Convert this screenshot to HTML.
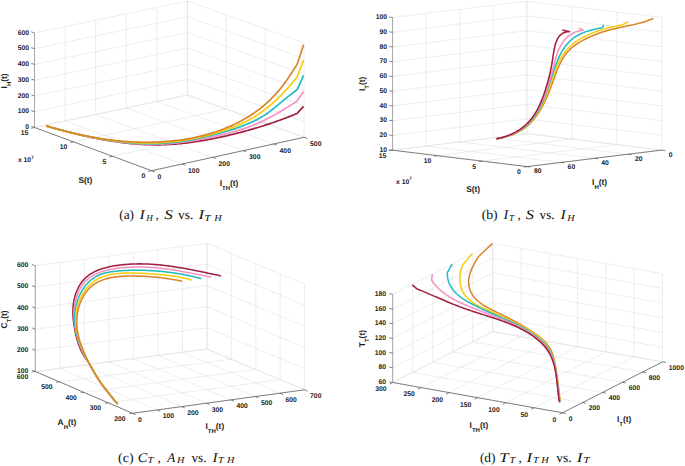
<!DOCTYPE html>
<html><head><meta charset="utf-8"><style>
html,body{margin:0;padding:0;background:#fff;width:685px;height:466px;overflow:hidden;}
svg{display:block;font-family:"Liberation Sans",sans-serif;text-rendering:geometricPrecision;}
</style></head><body>
<svg width="685" height="466" viewBox="0 0 685 466">
<rect width="685" height="466" fill="#fff"/>
<line x1="151.6" y1="170.7" x2="34.5" y2="127.5" stroke="#dedede" stroke-width="0.7" stroke-dasharray="1.6 0.5"/>
<line x1="34.5" y1="127.5" x2="34.5" y2="33" stroke="#dedede" stroke-width="0.7" stroke-dasharray="1.6 0.5"/>
<line x1="182.1" y1="164.02" x2="65.08" y2="121" stroke="#dedede" stroke-width="0.7" stroke-dasharray="1.6 0.5"/>
<line x1="65.08" y1="121" x2="65.08" y2="26.62" stroke="#dedede" stroke-width="0.7" stroke-dasharray="1.6 0.5"/>
<line x1="212.6" y1="157.34" x2="95.66" y2="114.5" stroke="#dedede" stroke-width="0.7" stroke-dasharray="1.6 0.5"/>
<line x1="95.66" y1="114.5" x2="95.66" y2="20.24" stroke="#dedede" stroke-width="0.7" stroke-dasharray="1.6 0.5"/>
<line x1="243.1" y1="150.66" x2="126.24" y2="108" stroke="#dedede" stroke-width="0.7" stroke-dasharray="1.6 0.5"/>
<line x1="126.24" y1="108" x2="126.24" y2="13.86" stroke="#dedede" stroke-width="0.7" stroke-dasharray="1.6 0.5"/>
<line x1="273.6" y1="143.98" x2="156.82" y2="101.5" stroke="#dedede" stroke-width="0.7" stroke-dasharray="1.6 0.5"/>
<line x1="156.82" y1="101.5" x2="156.82" y2="7.48" stroke="#dedede" stroke-width="0.7" stroke-dasharray="1.6 0.5"/>
<line x1="304.1" y1="137.3" x2="187.4" y2="95" stroke="#dedede" stroke-width="0.7" stroke-dasharray="1.6 0.5"/>
<line x1="187.4" y1="95" x2="187.4" y2="1.1" stroke="#dedede" stroke-width="0.7" stroke-dasharray="1.6 0.5"/>
<line x1="151.6" y1="170.7" x2="304.1" y2="137.3" stroke="#dedede" stroke-width="0.7" stroke-dasharray="1.6 0.5"/>
<line x1="304.1" y1="137.3" x2="304.1" y2="42.8" stroke="#dedede" stroke-width="0.7" stroke-dasharray="1.6 0.5"/>
<line x1="112.57" y1="156.3" x2="265.2" y2="123.2" stroke="#dedede" stroke-width="0.7" stroke-dasharray="1.6 0.5"/>
<line x1="265.2" y1="123.2" x2="265.2" y2="28.9" stroke="#dedede" stroke-width="0.7" stroke-dasharray="1.6 0.5"/>
<line x1="73.53" y1="141.9" x2="226.3" y2="109.1" stroke="#dedede" stroke-width="0.7" stroke-dasharray="1.6 0.5"/>
<line x1="226.3" y1="109.1" x2="226.3" y2="15" stroke="#dedede" stroke-width="0.7" stroke-dasharray="1.6 0.5"/>
<line x1="34.5" y1="127.5" x2="187.4" y2="95" stroke="#dedede" stroke-width="0.7" stroke-dasharray="1.6 0.5"/>
<line x1="187.4" y1="95" x2="187.4" y2="1.1" stroke="#dedede" stroke-width="0.7" stroke-dasharray="1.6 0.5"/>
<line x1="34.5" y1="127.5" x2="187.4" y2="95" stroke="#dedede" stroke-width="0.7" stroke-dasharray="1.6 0.5"/>
<line x1="304.1" y1="137.3" x2="187.4" y2="95" stroke="#dedede" stroke-width="0.7" stroke-dasharray="1.6 0.5"/>
<line x1="34.5" y1="111.75" x2="187.4" y2="79.35" stroke="#dedede" stroke-width="0.7" stroke-dasharray="1.6 0.5"/>
<line x1="304.1" y1="121.55" x2="187.4" y2="79.35" stroke="#dedede" stroke-width="0.7" stroke-dasharray="1.6 0.5"/>
<line x1="34.5" y1="96" x2="187.4" y2="63.7" stroke="#dedede" stroke-width="0.7" stroke-dasharray="1.6 0.5"/>
<line x1="304.1" y1="105.8" x2="187.4" y2="63.7" stroke="#dedede" stroke-width="0.7" stroke-dasharray="1.6 0.5"/>
<line x1="34.5" y1="80.25" x2="187.4" y2="48.05" stroke="#dedede" stroke-width="0.7" stroke-dasharray="1.6 0.5"/>
<line x1="304.1" y1="90.05" x2="187.4" y2="48.05" stroke="#dedede" stroke-width="0.7" stroke-dasharray="1.6 0.5"/>
<line x1="34.5" y1="64.5" x2="187.4" y2="32.4" stroke="#dedede" stroke-width="0.7" stroke-dasharray="1.6 0.5"/>
<line x1="304.1" y1="74.3" x2="187.4" y2="32.4" stroke="#dedede" stroke-width="0.7" stroke-dasharray="1.6 0.5"/>
<line x1="34.5" y1="48.75" x2="187.4" y2="16.75" stroke="#dedede" stroke-width="0.7" stroke-dasharray="1.6 0.5"/>
<line x1="304.1" y1="58.55" x2="187.4" y2="16.75" stroke="#dedede" stroke-width="0.7" stroke-dasharray="1.6 0.5"/>
<line x1="34.5" y1="33" x2="187.4" y2="1.1" stroke="#dedede" stroke-width="0.7" stroke-dasharray="1.6 0.5"/>
<line x1="304.1" y1="42.8" x2="187.4" y2="1.1" stroke="#dedede" stroke-width="0.7" stroke-dasharray="1.6 0.5"/>
<line x1="151.6" y1="170.7" x2="304.1" y2="137.3" stroke="#5a5a5a" stroke-width="0.75"/>
<line x1="151.6" y1="170.7" x2="34.5" y2="127.5" stroke="#5a5a5a" stroke-width="0.75"/>
<line x1="34.5" y1="127.5" x2="34.5" y2="33" stroke="#a8a8a8" stroke-width="1.0"/>
<line x1="151.6" y1="170.7" x2="154.79" y2="171.88" stroke="#5a5a5a" stroke-width="0.75"/>
<line x1="182.1" y1="164.02" x2="185.29" y2="165.2" stroke="#5a5a5a" stroke-width="0.75"/>
<line x1="212.6" y1="157.34" x2="215.79" y2="158.52" stroke="#5a5a5a" stroke-width="0.75"/>
<line x1="243.1" y1="150.66" x2="246.29" y2="151.84" stroke="#5a5a5a" stroke-width="0.75"/>
<line x1="273.6" y1="143.98" x2="276.79" y2="145.16" stroke="#5a5a5a" stroke-width="0.75"/>
<line x1="304.1" y1="137.3" x2="307.29" y2="138.48" stroke="#5a5a5a" stroke-width="0.75"/>
<line x1="151.6" y1="170.7" x2="148.28" y2="171.43" stroke="#5a5a5a" stroke-width="0.75"/>
<line x1="112.57" y1="156.3" x2="109.25" y2="157.03" stroke="#5a5a5a" stroke-width="0.75"/>
<line x1="73.53" y1="141.9" x2="70.21" y2="142.63" stroke="#5a5a5a" stroke-width="0.75"/>
<line x1="34.5" y1="127.5" x2="31.18" y2="128.23" stroke="#5a5a5a" stroke-width="0.75"/>
<line x1="34.5" y1="127.5" x2="31.31" y2="126.32" stroke="#5a5a5a" stroke-width="0.75"/>
<line x1="34.5" y1="111.75" x2="31.31" y2="110.57" stroke="#5a5a5a" stroke-width="0.75"/>
<line x1="34.5" y1="96" x2="31.31" y2="94.82" stroke="#5a5a5a" stroke-width="0.75"/>
<line x1="34.5" y1="80.25" x2="31.31" y2="79.07" stroke="#5a5a5a" stroke-width="0.75"/>
<line x1="34.5" y1="64.5" x2="31.31" y2="63.32" stroke="#5a5a5a" stroke-width="0.75"/>
<line x1="34.5" y1="48.75" x2="31.31" y2="47.57" stroke="#5a5a5a" stroke-width="0.75"/>
<line x1="34.5" y1="33" x2="31.31" y2="31.82" stroke="#5a5a5a" stroke-width="0.75"/>
<text x="157.6" y="179.23" font-size="6.8" text-anchor="start" font-weight="bold" fill="#262626" font-family="Liberation Sans">0</text>
<text x="188.1" y="172.55" font-size="6.8" text-anchor="start" font-weight="bold" fill="#262626" font-family="Liberation Sans">100</text>
<text x="218.6" y="165.87" font-size="6.8" text-anchor="start" font-weight="bold" fill="#262626" font-family="Liberation Sans">200</text>
<text x="249.1" y="159.19" font-size="6.8" text-anchor="start" font-weight="bold" fill="#262626" font-family="Liberation Sans">300</text>
<text x="279.6" y="152.51" font-size="6.8" text-anchor="start" font-weight="bold" fill="#262626" font-family="Liberation Sans">400</text>
<text x="310.1" y="145.83" font-size="6.8" text-anchor="start" font-weight="bold" fill="#262626" font-family="Liberation Sans">500</text>
<text x="145.4" y="178.13" font-size="6.8" text-anchor="end" font-weight="bold" fill="#262626" font-family="Liberation Sans">0</text>
<text x="106.37" y="163.73" font-size="6.8" text-anchor="end" font-weight="bold" fill="#262626" font-family="Liberation Sans">5</text>
<text x="67.33" y="149.33" font-size="6.8" text-anchor="end" font-weight="bold" fill="#262626" font-family="Liberation Sans">10</text>
<text x="28.3" y="134.93" font-size="6.8" text-anchor="end" font-weight="bold" fill="#262626" font-family="Liberation Sans">15</text>
<text x="29" y="129.03" font-size="6.8" text-anchor="end" font-weight="bold" fill="#262626" font-family="Liberation Sans">0</text>
<text x="29" y="113.28" font-size="6.8" text-anchor="end" font-weight="bold" fill="#262626" font-family="Liberation Sans">100</text>
<text x="29" y="97.53" font-size="6.8" text-anchor="end" font-weight="bold" fill="#262626" font-family="Liberation Sans">200</text>
<text x="29" y="81.78" font-size="6.8" text-anchor="end" font-weight="bold" fill="#262626" font-family="Liberation Sans">300</text>
<text x="29" y="66.03" font-size="6.8" text-anchor="end" font-weight="bold" fill="#262626" font-family="Liberation Sans">400</text>
<text x="29" y="50.28" font-size="6.8" text-anchor="end" font-weight="bold" fill="#262626" font-family="Liberation Sans">500</text>
<text x="29" y="34.53" font-size="6.8" text-anchor="end" font-weight="bold" fill="#262626" font-family="Liberation Sans">600</text>
<text x="17.9" y="162.3" font-size="6.8" text-anchor="start" font-weight="bold" fill="#262626" font-family="Liberation Sans">x 10<tspan font-size="4.6" dy="-3.6">7</tspan></text>
<text x="219.7" y="185.6" font-size="8.4" text-anchor="start" font-weight="bold" fill="#1a1a1a" font-family="Liberation Sans">I<tspan font-size="6.0" dy="4.0">TH</tspan><tspan dy="-4.0">(t)</tspan></text>
<text x="78.4" y="182.8" font-size="8.4" text-anchor="start" font-weight="bold" fill="#1a1a1a" font-family="Liberation Sans">S(t)</text>
<text x="7.5" y="88.4" font-size="8.4" text-anchor="start" font-weight="bold" fill="#1a1a1a" font-family="Liberation Sans" transform="rotate(-90 7.5 88.4)">I<tspan font-size="6.0" dy="4.0">H</tspan><tspan dy="-4.0">(t)</tspan></text>
<path d="M46.17 125.89 L47.8 126.36 L49.43 126.82 L51.07 127.28 L52.7 127.74 L54.34 128.19 L55.98 128.64 L57.62 129.09 L59.26 129.54 L60.91 129.98 L62.55 130.42 L64.2 130.86 L65.85 131.29 L67.5 131.72 L69.15 132.14 L70.81 132.56 L72.46 132.98 L74.12 133.39 L75.78 133.79 L77.44 134.2 L79.1 134.59 L80.76 134.98 L82.42 135.37 L84.09 135.75 L85.76 136.13 L87.42 136.5 L89.09 136.86 L90.76 137.22 L92.43 137.57 L94.11 137.92 L95.78 138.26 L97.45 138.59 L99.13 138.91 L100.81 139.23 L102.48 139.54 L104.16 139.85 L105.84 140.14 L107.52 140.43 L109.21 140.71 L110.89 140.99 L112.57 141.25 L114.26 141.51 L115.94 141.76 L117.63 142 L119.32 142.23 L121 142.45 L122.69 142.67 L124.38 142.87 L126.07 143.07 L127.76 143.25 L129.45 143.43 L131.14 143.6 L132.84 143.75 L134.53 143.9 L136.22 144.04 L137.92 144.16 L139.61 144.28 L141.31 144.39 L143 144.48 L144.7 144.56 L146.39 144.63 L148.09 144.7 L149.79 144.74 L151.48 144.78 L153.18 144.81 L154.88 144.82 L156.58 144.82 L158.27 144.81 L159.97 144.79 L161.67 144.76 L163.37 144.71 L165.07 144.65 L166.77 144.58 L168.46 144.5 L170.16 144.4 L171.86 144.29 L173.56 144.18 L175.26 144.05 L176.95 143.91 L178.65 143.76 L180.35 143.6 L182.04 143.43 L183.74 143.24 L185.43 143.05 L187.13 142.85 L188.82 142.64 L190.51 142.42 L192.21 142.19 L193.9 141.96 L195.59 141.71 L197.28 141.45 L198.97 141.19 L200.66 140.92 L202.34 140.64 L204.03 140.35 L205.71 140.05 L207.39 139.75 L209.08 139.44 L210.76 139.12 L212.44 138.79 L214.11 138.46 L215.79 138.12 L217.46 137.78 L219.14 137.42 L220.81 137.07 L222.48 136.7 L224.15 136.33 L225.81 135.96 L227.48 135.57 L229.14 135.19 L230.8 134.79 L232.46 134.39 L234.12 133.99 L235.77 133.58 L237.43 133.16 L239.08 132.74 L240.73 132.31 L242.38 131.87 L244.02 131.43 L245.67 130.99 L247.31 130.53 L248.95 130.08 L250.59 129.61 L252.22 129.14 L253.86 128.67 L255.49 128.19 L257.12 127.7 L258.75 127.21 L260.37 126.71 L262 126.2 L263.62 125.69 L265.24 125.17 L266.85 124.65 L268.47 124.12 L270.08 123.58 L271.69 123.04 L273.3 122.49 L274.9 121.93 L276.51 121.37 L278.11 120.8 L279.71 120.22 L281.3 119.64 L282.9 119.05 L284.49 118.45 L286.08 117.85 L287.66 117.24 L289.25 116.62 L290.83 115.99 L292.41 115.36 L293.99 114.72 L295.56 114.08 L297.13 113.42 L303.6 106.4" fill="none" stroke="#a3203f" stroke-width="1.7" stroke-linejoin="round" stroke-linecap="butt"/>
<path d="M46.16 126.04 L47.82 126.48 L49.48 126.93 L51.14 127.37 L52.8 127.81 L54.47 128.25 L56.13 128.69 L57.8 129.13 L59.47 129.57 L61.15 130 L62.82 130.43 L64.5 130.86 L66.17 131.29 L67.85 131.71 L69.53 132.13 L71.21 132.54 L72.9 132.96 L74.58 133.37 L76.27 133.77 L77.96 134.17 L79.65 134.57 L81.34 134.96 L83.03 135.34 L84.72 135.73 L86.42 136.1 L88.12 136.47 L89.81 136.84 L91.51 137.19 L93.21 137.55 L94.91 137.89 L96.62 138.23 L98.32 138.56 L100.02 138.89 L101.73 139.21 L103.44 139.52 L105.14 139.82 L106.85 140.11 L108.56 140.4 L110.27 140.68 L111.98 140.95 L113.7 141.21 L115.41 141.46 L117.12 141.71 L118.84 141.94 L120.55 142.16 L122.27 142.38 L123.99 142.58 L125.71 142.78 L127.42 142.96 L129.14 143.13 L130.86 143.3 L132.58 143.45 L134.3 143.59 L136.02 143.72 L137.75 143.83 L139.47 143.94 L141.19 144.03 L142.91 144.11 L144.64 144.18 L146.36 144.23 L148.08 144.27 L149.81 144.3 L151.53 144.32 L153.26 144.32 L154.98 144.31 L156.71 144.28 L158.43 144.24 L160.16 144.19 L161.88 144.12 L163.61 144.03 L165.34 143.93 L167.06 143.82 L168.79 143.7 L170.51 143.56 L172.24 143.41 L173.96 143.24 L175.68 143.07 L177.41 142.88 L179.13 142.68 L180.85 142.47 L182.57 142.25 L184.3 142.02 L186.02 141.77 L187.73 141.52 L189.45 141.25 L191.17 140.98 L192.89 140.7 L194.6 140.41 L196.31 140.11 L198.03 139.8 L199.74 139.48 L201.45 139.16 L203.16 138.82 L204.86 138.48 L206.57 138.14 L208.27 137.78 L209.97 137.43 L211.67 137.06 L213.37 136.69 L215.07 136.31 L216.76 135.93 L218.45 135.54 L220.14 135.15 L221.83 134.75 L223.52 134.35 L225.2 133.94 L226.88 133.53 L228.56 133.11 L230.23 132.67 L231.9 132.23 L233.57 131.78 L235.23 131.32 L236.88 130.85 L238.54 130.36 L240.18 129.87 L241.82 129.35 L243.46 128.82 L245.09 128.28 L246.72 127.72 L248.34 127.14 L249.95 126.54 L251.55 125.93 L253.15 125.29 L254.74 124.64 L256.33 123.97 L257.91 123.28 L259.48 122.58 L261.05 121.86 L262.61 121.12 L264.16 120.37 L265.71 119.6 L267.26 118.82 L268.79 118.03 L270.32 117.22 L271.85 116.4 L273.37 115.57 L274.89 114.73 L276.4 113.87 L277.9 113.01 L279.4 112.14 L280.89 111.25 L282.38 110.36 L283.87 109.46 L285.35 108.55 L286.83 107.64 L288.3 106.71 L289.76 105.79 L291.23 104.85 L292.68 103.91 L294.14 102.97 L295.59 102.02 L297.03 101.07 L303.6 91.4" fill="none" stroke="#f792c4" stroke-width="1.7" stroke-linejoin="round" stroke-linecap="butt"/>
<path d="M46.17 126.04 L47.85 126.5 L49.54 126.95 L51.23 127.41 L52.93 127.86 L54.62 128.31 L56.32 128.76 L58.02 129.21 L59.72 129.65 L61.42 130.09 L63.13 130.53 L64.84 130.96 L66.55 131.39 L68.26 131.82 L69.97 132.24 L71.69 132.66 L73.4 133.08 L75.12 133.49 L76.84 133.9 L78.57 134.3 L80.29 134.69 L82.01 135.08 L83.74 135.47 L85.47 135.85 L87.2 136.22 L88.93 136.59 L90.66 136.95 L92.4 137.3 L94.13 137.65 L95.87 137.99 L97.61 138.32 L99.34 138.65 L101.08 138.96 L102.83 139.27 L104.57 139.57 L106.31 139.87 L108.06 140.15 L109.8 140.42 L111.55 140.69 L113.3 140.94 L115.04 141.19 L116.79 141.43 L118.54 141.65 L120.29 141.87 L122.04 142.07 L123.8 142.27 L125.55 142.45 L127.3 142.63 L129.06 142.79 L130.81 142.94 L132.57 143.07 L134.32 143.2 L136.08 143.31 L137.83 143.41 L139.59 143.5 L141.35 143.58 L143.11 143.64 L144.86 143.69 L146.62 143.72 L148.38 143.74 L150.14 143.75 L151.9 143.74 L153.65 143.72 L155.41 143.69 L157.17 143.64 L158.93 143.57 L160.69 143.49 L162.45 143.39 L164.2 143.28 L165.96 143.15 L167.72 143.01 L169.48 142.85 L171.23 142.68 L172.99 142.5 L174.74 142.3 L176.5 142.09 L178.25 141.86 L180 141.63 L181.75 141.37 L183.5 141.11 L185.25 140.84 L187 140.55 L188.74 140.25 L190.49 139.94 L192.23 139.62 L193.97 139.29 L195.71 138.95 L197.44 138.59 L199.18 138.23 L200.91 137.86 L202.64 137.47 L204.37 137.08 L206.09 136.68 L207.82 136.27 L209.54 135.85 L211.26 135.42 L212.97 134.99 L214.68 134.54 L216.39 134.09 L218.1 133.63 L219.8 133.17 L221.5 132.7 L223.2 132.22 L224.89 131.73 L226.58 131.23 L228.26 130.72 L229.95 130.21 L231.62 129.68 L233.29 129.14 L234.96 128.58 L236.62 128.02 L238.28 127.44 L239.94 126.85 L241.58 126.24 L243.22 125.61 L244.86 124.97 L246.49 124.31 L248.11 123.63 L249.73 122.94 L251.34 122.22 L252.95 121.48 L254.54 120.73 L256.12 119.94 L257.69 119.14 L259.25 118.3 L260.79 117.44 L262.31 116.55 L263.81 115.63 L265.28 114.68 L266.74 113.7 L268.18 112.69 L269.59 111.65 L271 110.59 L272.39 109.51 L273.77 108.42 L275.13 107.31 L276.5 106.19 L277.85 105.06 L279.21 103.93 L280.56 102.8 L281.92 101.67 L283.27 100.54 L284.63 99.42 L286 98.3 L287.37 97.19 L288.74 96.08 L290.12 94.99 L291.51 93.9 L292.91 92.83 L294.32 91.76 L295.73 90.71 L297.16 89.68 L303.6 75.4" fill="none" stroke="#22bcc4" stroke-width="1.7" stroke-linejoin="round" stroke-linecap="butt"/>
<path d="M46.15 125.94 L47.88 126.44 L49.61 126.93 L51.35 127.43 L53.09 127.91 L54.83 128.39 L56.57 128.87 L58.31 129.34 L60.06 129.81 L61.81 130.27 L63.56 130.73 L65.31 131.18 L67.06 131.63 L68.82 132.06 L70.57 132.5 L72.33 132.92 L74.09 133.35 L75.85 133.76 L77.62 134.17 L79.38 134.57 L81.15 134.96 L82.92 135.34 L84.69 135.72 L86.46 136.09 L88.24 136.46 L90.01 136.81 L91.79 137.16 L93.56 137.5 L95.34 137.83 L97.12 138.15 L98.9 138.46 L100.69 138.77 L102.47 139.06 L104.25 139.35 L106.04 139.62 L107.83 139.89 L109.62 140.15 L111.41 140.39 L113.2 140.63 L114.99 140.86 L116.78 141.07 L118.57 141.28 L120.36 141.48 L122.16 141.66 L123.95 141.83 L125.75 141.99 L127.55 142.14 L129.34 142.28 L131.14 142.41 L132.94 142.53 L134.74 142.63 L136.54 142.72 L138.34 142.8 L140.14 142.86 L141.94 142.92 L143.74 142.96 L145.55 142.98 L147.35 143 L149.15 143 L150.95 142.99 L152.76 142.96 L154.56 142.92 L156.36 142.86 L158.17 142.79 L159.97 142.71 L161.77 142.61 L163.58 142.5 L165.38 142.37 L167.18 142.23 L168.99 142.08 L170.79 141.91 L172.59 141.73 L174.39 141.53 L176.19 141.32 L177.99 141.09 L179.78 140.85 L181.58 140.6 L183.37 140.33 L185.16 140.05 L186.96 139.75 L188.74 139.45 L190.53 139.13 L192.31 138.79 L194.1 138.44 L195.88 138.08 L197.65 137.71 L199.43 137.32 L201.2 136.92 L202.97 136.5 L204.73 136.08 L206.49 135.64 L208.25 135.19 L210.01 134.72 L211.76 134.24 L213.51 133.75 L215.25 133.25 L216.99 132.74 L218.73 132.21 L220.46 131.67 L222.19 131.12 L223.91 130.55 L225.62 129.97 L227.33 129.38 L229.04 128.77 L230.73 128.15 L232.42 127.51 L234.1 126.85 L235.78 126.17 L237.44 125.48 L239.09 124.77 L240.73 124.03 L242.37 123.28 L243.99 122.5 L245.59 121.71 L247.19 120.89 L248.77 120.05 L250.34 119.18 L251.9 118.29 L253.44 117.38 L254.97 116.44 L256.48 115.48 L257.98 114.5 L259.47 113.49 L260.94 112.47 L262.4 111.42 L263.85 110.35 L265.28 109.26 L266.7 108.16 L268.11 107.03 L269.5 105.89 L270.88 104.72 L272.25 103.54 L273.6 102.35 L274.95 101.13 L276.27 99.9 L277.59 98.65 L278.89 97.39 L280.18 96.12 L281.46 94.83 L282.72 93.52 L283.98 92.21 L285.22 90.88 L286.45 89.54 L287.66 88.19 L288.87 86.82 L290.07 85.45 L291.25 84.08 L292.42 82.69 L293.59 81.3 L294.74 79.9 L295.89 78.49 L297.02 77.08 L303.6 60.1" fill="none" stroke="#f8ce0c" stroke-width="1.7" stroke-linejoin="round" stroke-linecap="butt"/>
<path d="M46.09 125.84 L47.88 126.39 L49.68 126.92 L51.47 127.45 L53.27 127.97 L55.06 128.49 L56.86 129 L58.66 129.5 L60.46 129.99 L62.27 130.47 L64.07 130.95 L65.87 131.41 L67.68 131.87 L69.48 132.32 L71.29 132.76 L73.1 133.2 L74.91 133.62 L76.72 134.04 L78.54 134.44 L80.35 134.84 L82.16 135.23 L83.98 135.61 L85.8 135.98 L87.62 136.34 L89.43 136.69 L91.25 137.03 L93.08 137.36 L94.9 137.69 L96.72 138 L98.55 138.3 L100.37 138.59 L102.2 138.87 L104.03 139.14 L105.86 139.4 L107.69 139.65 L109.52 139.89 L111.35 140.12 L113.18 140.34 L115.02 140.55 L116.85 140.74 L118.69 140.93 L120.53 141.1 L122.37 141.26 L124.21 141.41 L126.05 141.55 L127.89 141.68 L129.73 141.79 L131.58 141.89 L133.42 141.98 L135.27 142.06 L137.12 142.13 L138.96 142.18 L140.81 142.22 L142.66 142.25 L144.51 142.27 L146.37 142.27 L148.22 142.26 L150.07 142.24 L151.93 142.21 L153.79 142.16 L155.64 142.1 L157.5 142.02 L159.36 141.93 L161.22 141.83 L163.08 141.72 L164.94 141.59 L166.8 141.44 L168.67 141.28 L170.53 141.11 L172.39 140.92 L174.25 140.72 L176.11 140.51 L177.96 140.28 L179.82 140.03 L181.67 139.77 L183.52 139.49 L185.37 139.2 L187.22 138.89 L189.06 138.56 L190.9 138.22 L192.74 137.87 L194.57 137.49 L196.4 137.1 L198.22 136.7 L200.04 136.28 L201.85 135.84 L203.66 135.38 L205.47 134.9 L207.26 134.41 L209.05 133.9 L210.84 133.38 L212.62 132.83 L214.39 132.27 L216.15 131.69 L217.91 131.09 L219.66 130.47 L221.4 129.83 L223.13 129.17 L224.86 128.5 L226.57 127.81 L228.28 127.09 L229.98 126.36 L231.66 125.61 L233.34 124.84 L235.01 124.04 L236.67 123.23 L238.31 122.4 L239.95 121.55 L241.57 120.67 L243.18 119.78 L244.78 118.86 L246.37 117.93 L247.95 116.97 L249.51 115.99 L251.06 114.99 L252.6 113.97 L254.12 112.93 L255.63 111.87 L257.13 110.78 L258.61 109.68 L260.07 108.55 L261.52 107.4 L262.96 106.23 L264.37 105.04 L265.77 103.83 L267.16 102.6 L268.52 101.35 L269.87 100.08 L271.2 98.78 L272.51 97.47 L273.8 96.14 L275.07 94.78 L276.32 93.41 L277.55 92.01 L278.76 90.6 L279.95 89.17 L281.12 87.71 L282.27 86.24 L283.4 84.75 L284.51 83.25 L285.6 81.73 L286.68 80.2 L287.75 78.66 L288.81 77.12 L289.85 75.57 L290.88 74.01 L291.91 72.45 L292.93 70.9 L293.95 69.34 L294.96 67.78 L295.97 66.23 L296.98 64.69 L303.6 44.7" fill="none" stroke="#d8862c" stroke-width="1.7" stroke-linejoin="round" stroke-linecap="butt"/>
<line x1="527" y1="166.6" x2="392.6" y2="150.2" stroke="#dedede" stroke-width="0.7" stroke-dasharray="1.6 0.5"/>
<line x1="392.6" y1="150.2" x2="392.6" y2="17.5" stroke="#dedede" stroke-width="0.7" stroke-dasharray="1.6 0.5"/>
<line x1="560.73" y1="162.47" x2="426.15" y2="146.05" stroke="#dedede" stroke-width="0.7" stroke-dasharray="1.6 0.5"/>
<line x1="426.15" y1="146.05" x2="426.15" y2="13.42" stroke="#dedede" stroke-width="0.7" stroke-dasharray="1.6 0.5"/>
<line x1="594.45" y1="158.35" x2="459.7" y2="141.9" stroke="#dedede" stroke-width="0.7" stroke-dasharray="1.6 0.5"/>
<line x1="459.7" y1="141.9" x2="459.7" y2="9.35" stroke="#dedede" stroke-width="0.7" stroke-dasharray="1.6 0.5"/>
<line x1="628.17" y1="154.22" x2="493.25" y2="137.75" stroke="#dedede" stroke-width="0.7" stroke-dasharray="1.6 0.5"/>
<line x1="493.25" y1="137.75" x2="493.25" y2="5.27" stroke="#dedede" stroke-width="0.7" stroke-dasharray="1.6 0.5"/>
<line x1="661.9" y1="150.1" x2="526.8" y2="133.6" stroke="#dedede" stroke-width="0.7" stroke-dasharray="1.6 0.5"/>
<line x1="526.8" y1="133.6" x2="526.8" y2="1.2" stroke="#dedede" stroke-width="0.7" stroke-dasharray="1.6 0.5"/>
<line x1="527" y1="166.6" x2="661.9" y2="150.1" stroke="#dedede" stroke-width="0.7" stroke-dasharray="1.6 0.5"/>
<line x1="661.9" y1="150.1" x2="661.9" y2="17.4" stroke="#dedede" stroke-width="0.7" stroke-dasharray="1.6 0.5"/>
<line x1="482.2" y1="161.13" x2="616.87" y2="144.6" stroke="#dedede" stroke-width="0.7" stroke-dasharray="1.6 0.5"/>
<line x1="616.87" y1="144.6" x2="616.87" y2="12" stroke="#dedede" stroke-width="0.7" stroke-dasharray="1.6 0.5"/>
<line x1="437.4" y1="155.67" x2="571.83" y2="139.1" stroke="#dedede" stroke-width="0.7" stroke-dasharray="1.6 0.5"/>
<line x1="571.83" y1="139.1" x2="571.83" y2="6.6" stroke="#dedede" stroke-width="0.7" stroke-dasharray="1.6 0.5"/>
<line x1="392.6" y1="150.2" x2="526.8" y2="133.6" stroke="#dedede" stroke-width="0.7" stroke-dasharray="1.6 0.5"/>
<line x1="526.8" y1="133.6" x2="526.8" y2="1.2" stroke="#dedede" stroke-width="0.7" stroke-dasharray="1.6 0.5"/>
<line x1="392.6" y1="150.2" x2="526.8" y2="133.6" stroke="#dedede" stroke-width="0.7" stroke-dasharray="1.6 0.5"/>
<line x1="661.9" y1="150.1" x2="526.8" y2="133.6" stroke="#dedede" stroke-width="0.7" stroke-dasharray="1.6 0.5"/>
<line x1="392.6" y1="135.46" x2="526.8" y2="118.89" stroke="#dedede" stroke-width="0.7" stroke-dasharray="1.6 0.5"/>
<line x1="661.9" y1="135.36" x2="526.8" y2="118.89" stroke="#dedede" stroke-width="0.7" stroke-dasharray="1.6 0.5"/>
<line x1="392.6" y1="120.71" x2="526.8" y2="104.18" stroke="#dedede" stroke-width="0.7" stroke-dasharray="1.6 0.5"/>
<line x1="661.9" y1="120.61" x2="526.8" y2="104.18" stroke="#dedede" stroke-width="0.7" stroke-dasharray="1.6 0.5"/>
<line x1="392.6" y1="105.97" x2="526.8" y2="89.47" stroke="#dedede" stroke-width="0.7" stroke-dasharray="1.6 0.5"/>
<line x1="661.9" y1="105.87" x2="526.8" y2="89.47" stroke="#dedede" stroke-width="0.7" stroke-dasharray="1.6 0.5"/>
<line x1="392.6" y1="91.22" x2="526.8" y2="74.76" stroke="#dedede" stroke-width="0.7" stroke-dasharray="1.6 0.5"/>
<line x1="661.9" y1="91.12" x2="526.8" y2="74.76" stroke="#dedede" stroke-width="0.7" stroke-dasharray="1.6 0.5"/>
<line x1="392.6" y1="76.48" x2="526.8" y2="60.04" stroke="#dedede" stroke-width="0.7" stroke-dasharray="1.6 0.5"/>
<line x1="661.9" y1="76.38" x2="526.8" y2="60.04" stroke="#dedede" stroke-width="0.7" stroke-dasharray="1.6 0.5"/>
<line x1="392.6" y1="61.73" x2="526.8" y2="45.33" stroke="#dedede" stroke-width="0.7" stroke-dasharray="1.6 0.5"/>
<line x1="661.9" y1="61.63" x2="526.8" y2="45.33" stroke="#dedede" stroke-width="0.7" stroke-dasharray="1.6 0.5"/>
<line x1="392.6" y1="46.99" x2="526.8" y2="30.62" stroke="#dedede" stroke-width="0.7" stroke-dasharray="1.6 0.5"/>
<line x1="661.9" y1="46.89" x2="526.8" y2="30.62" stroke="#dedede" stroke-width="0.7" stroke-dasharray="1.6 0.5"/>
<line x1="392.6" y1="32.24" x2="526.8" y2="15.91" stroke="#dedede" stroke-width="0.7" stroke-dasharray="1.6 0.5"/>
<line x1="661.9" y1="32.14" x2="526.8" y2="15.91" stroke="#dedede" stroke-width="0.7" stroke-dasharray="1.6 0.5"/>
<line x1="392.6" y1="17.5" x2="526.8" y2="1.2" stroke="#dedede" stroke-width="0.7" stroke-dasharray="1.6 0.5"/>
<line x1="661.9" y1="17.4" x2="526.8" y2="1.2" stroke="#dedede" stroke-width="0.7" stroke-dasharray="1.6 0.5"/>
<line x1="527" y1="166.6" x2="661.9" y2="150.1" stroke="#5a5a5a" stroke-width="0.75"/>
<line x1="527" y1="166.6" x2="392.6" y2="150.2" stroke="#5a5a5a" stroke-width="0.75"/>
<line x1="392.6" y1="150.2" x2="392.6" y2="17.5" stroke="#a8a8a8" stroke-width="1.0"/>
<line x1="527" y1="166.6" x2="530.37" y2="167.01" stroke="#5a5a5a" stroke-width="0.75"/>
<line x1="560.73" y1="162.47" x2="564.1" y2="162.89" stroke="#5a5a5a" stroke-width="0.75"/>
<line x1="594.45" y1="158.35" x2="597.82" y2="158.76" stroke="#5a5a5a" stroke-width="0.75"/>
<line x1="628.17" y1="154.22" x2="631.55" y2="154.64" stroke="#5a5a5a" stroke-width="0.75"/>
<line x1="661.9" y1="150.1" x2="665.27" y2="150.51" stroke="#5a5a5a" stroke-width="0.75"/>
<line x1="527" y1="166.6" x2="523.63" y2="167.01" stroke="#5a5a5a" stroke-width="0.75"/>
<line x1="482.2" y1="161.13" x2="478.83" y2="161.55" stroke="#5a5a5a" stroke-width="0.75"/>
<line x1="437.4" y1="155.67" x2="434.03" y2="156.08" stroke="#5a5a5a" stroke-width="0.75"/>
<line x1="392.6" y1="150.2" x2="389.23" y2="150.61" stroke="#5a5a5a" stroke-width="0.75"/>
<line x1="392.6" y1="150.2" x2="389.23" y2="149.79" stroke="#5a5a5a" stroke-width="0.75"/>
<line x1="392.6" y1="135.46" x2="389.23" y2="135.04" stroke="#5a5a5a" stroke-width="0.75"/>
<line x1="392.6" y1="120.71" x2="389.23" y2="120.3" stroke="#5a5a5a" stroke-width="0.75"/>
<line x1="392.6" y1="105.97" x2="389.23" y2="105.55" stroke="#5a5a5a" stroke-width="0.75"/>
<line x1="392.6" y1="91.22" x2="389.23" y2="90.81" stroke="#5a5a5a" stroke-width="0.75"/>
<line x1="392.6" y1="76.48" x2="389.23" y2="76.07" stroke="#5a5a5a" stroke-width="0.75"/>
<line x1="392.6" y1="61.73" x2="389.23" y2="61.32" stroke="#5a5a5a" stroke-width="0.75"/>
<line x1="392.6" y1="46.99" x2="389.23" y2="46.58" stroke="#5a5a5a" stroke-width="0.75"/>
<line x1="392.6" y1="32.24" x2="389.23" y2="31.83" stroke="#5a5a5a" stroke-width="0.75"/>
<line x1="392.6" y1="17.5" x2="389.23" y2="17.09" stroke="#5a5a5a" stroke-width="0.75"/>
<text x="533.9" y="173.43" font-size="6.8" text-anchor="start" font-weight="bold" fill="#262626" font-family="Liberation Sans">80</text>
<text x="567.62" y="169.31" font-size="6.8" text-anchor="start" font-weight="bold" fill="#262626" font-family="Liberation Sans">60</text>
<text x="601.35" y="165.18" font-size="6.8" text-anchor="start" font-weight="bold" fill="#262626" font-family="Liberation Sans">40</text>
<text x="635.07" y="161.06" font-size="6.8" text-anchor="start" font-weight="bold" fill="#262626" font-family="Liberation Sans">20</text>
<text x="668.8" y="156.93" font-size="6.8" text-anchor="start" font-weight="bold" fill="#262626" font-family="Liberation Sans">0</text>
<text x="520.8" y="174.03" font-size="6.8" text-anchor="end" font-weight="bold" fill="#262626" font-family="Liberation Sans">0</text>
<text x="476" y="168.57" font-size="6.8" text-anchor="end" font-weight="bold" fill="#262626" font-family="Liberation Sans">5</text>
<text x="431.2" y="163.1" font-size="6.8" text-anchor="end" font-weight="bold" fill="#262626" font-family="Liberation Sans">10</text>
<text x="386.4" y="157.63" font-size="6.8" text-anchor="end" font-weight="bold" fill="#262626" font-family="Liberation Sans">15</text>
<text x="387.1" y="151.73" font-size="6.8" text-anchor="end" font-weight="bold" fill="#262626" font-family="Liberation Sans">10</text>
<text x="387.1" y="136.99" font-size="6.8" text-anchor="end" font-weight="bold" fill="#262626" font-family="Liberation Sans">20</text>
<text x="387.1" y="122.25" font-size="6.8" text-anchor="end" font-weight="bold" fill="#262626" font-family="Liberation Sans">30</text>
<text x="387.1" y="107.5" font-size="6.8" text-anchor="end" font-weight="bold" fill="#262626" font-family="Liberation Sans">40</text>
<text x="387.1" y="92.76" font-size="6.8" text-anchor="end" font-weight="bold" fill="#262626" font-family="Liberation Sans">50</text>
<text x="387.1" y="78.01" font-size="6.8" text-anchor="end" font-weight="bold" fill="#262626" font-family="Liberation Sans">60</text>
<text x="387.1" y="63.27" font-size="6.8" text-anchor="end" font-weight="bold" fill="#262626" font-family="Liberation Sans">70</text>
<text x="387.1" y="48.52" font-size="6.8" text-anchor="end" font-weight="bold" fill="#262626" font-family="Liberation Sans">80</text>
<text x="387.1" y="33.78" font-size="6.8" text-anchor="end" font-weight="bold" fill="#262626" font-family="Liberation Sans">90</text>
<text x="387.1" y="19.03" font-size="6.8" text-anchor="end" font-weight="bold" fill="#262626" font-family="Liberation Sans">100</text>
<text x="396" y="184" font-size="6.8" text-anchor="start" font-weight="bold" fill="#262626" font-family="Liberation Sans">x 10<tspan font-size="4.6" dy="-3.6">7</tspan></text>
<text x="592.1" y="184.5" font-size="8.4" text-anchor="start" font-weight="bold" fill="#1a1a1a" font-family="Liberation Sans">I<tspan font-size="6.0" dy="4.0">H</tspan><tspan dy="-4.0">(t)</tspan></text>
<text x="466.2" y="191.6" font-size="8.4" text-anchor="start" font-weight="bold" fill="#1a1a1a" font-family="Liberation Sans">S(t)</text>
<text x="365" y="91" font-size="8.4" text-anchor="start" font-weight="bold" fill="#1a1a1a" font-family="Liberation Sans" transform="rotate(-90 365 91)">I<tspan font-size="6.0" dy="4.0">T</tspan><tspan dy="-4.0">(t)</tspan></text>
<path d="M496.35 138.79 L497.46 138.63 L498.57 138.44 L499.67 138.25 L500.77 138.03 L501.87 137.81 L502.97 137.57 L504.06 137.31 L505.15 137.04 L506.23 136.75 L507.31 136.45 L508.38 136.13 L509.45 135.79 L510.5 135.43 L511.55 135.05 L512.6 134.66 L513.63 134.25 L514.65 133.82 L515.67 133.37 L516.67 132.9 L517.66 132.41 L518.64 131.89 L519.61 131.36 L520.56 130.81 L521.51 130.23 L522.43 129.63 L523.35 129.01 L524.25 128.37 L525.13 127.7 L526 127.02 L526.86 126.31 L527.7 125.59 L528.52 124.85 L529.33 124.08 L530.13 123.31 L530.91 122.51 L531.68 121.7 L532.43 120.88 L533.17 120.04 L533.9 119.19 L534.61 118.33 L535.3 117.45 L535.98 116.56 L536.65 115.66 L537.3 114.76 L537.94 113.84 L538.56 112.91 L539.17 111.98 L539.76 111.04 L540.34 110.09 L540.91 109.14 L541.46 108.18 L542 107.21 L542.53 106.24 L543.05 105.26 L543.56 104.27 L544.06 103.28 L544.54 102.28 L545.02 101.28 L545.49 100.28 L545.95 99.27 L546.4 98.25 L546.85 97.23 L547.29 96.21 L547.72 95.18 L548.14 94.15 L548.56 93.12 L548.98 92.08 L549.38 91.05 L549.79 90 L550.19 88.96 L550.58 87.92 L550.98 86.87 L551.37 85.82 L551.76 84.77 L552.15 83.72 L552.53 82.67 L552.92 81.62 L553.3 80.57 L553.69 79.52 L554.07 78.46 L554.46 77.41 L554.85 76.36 L555.24 75.31 L555.63 74.27 L556.03 73.22 L556.43 72.17 L556.83 71.13 L557.24 70.09 L557.65 69.05 L558.07 68.02 L558.5 66.99 L558.94 65.97 L559.39 64.96 L559.85 63.96 L560.33 62.96 L560.82 61.97 L561.32 61 L561.85 60.04 L562.38 59.08 L562.94 58.15 L563.52 57.22 L564.12 56.32 L564.74 55.42 L565.39 54.55 L566.06 53.69 L566.75 52.85 L567.46 52.03 L568.2 51.22 L568.96 50.43 L569.74 49.66 L570.55 48.91 L571.37 48.18 L572.21 47.46 L573.07 46.76 L573.95 46.07 L574.84 45.4 L575.75 44.75 L576.67 44.11 L577.61 43.49 L578.56 42.88 L579.52 42.28 L580.49 41.7 L581.47 41.13 L582.46 40.58 L583.45 40.04 L584.46 39.51 L585.47 39 L586.48 38.49 L587.5 38 L588.52 37.52 L589.55 37.05 L590.58 36.59 L591.6 36.14 L592.63 35.7 L593.66 35.27 L594.69 34.86 L595.73 34.45 L596.76 34.05 L597.8 33.66 L598.83 33.28 L599.87 32.91 L600.92 32.55 L601.96 32.2 L603.01 31.86 L604.06 31.53 L605.11 31.2 L606.16 30.89 L607.22 30.58 L608.28 30.28 L609.35 29.99 L610.41 29.71 L611.49 29.43 L612.56 29.17 L613.64 28.91 L614.72 28.65 L615.8 28.4 L616.88 28.16 L617.97 27.92 L619.05 27.68 L620.14 27.45 L621.23 27.21 L622.32 26.98 L623.42 26.76 L624.51 26.53 L625.6 26.3 L626.69 26.07 L627.79 25.84 L628.88 25.61 L629.97 25.37 L631.06 25.14 L632.15 24.9 L633.24 24.65 L634.33 24.4 L635.41 24.14 L636.5 23.88 L637.58 23.61 L638.66 23.34 L639.73 23.06 L640.81 22.76 L641.88 22.46 L642.95 22.15 L644.01 21.83 L645.07 21.5 L646.13 21.16 L647.18 20.8 L648.22 20.44 L649.27 20.05 L650.31 19.66 L651.34 19.25 L652.37 18.83 L653.39 18.39" fill="none" stroke="#d8862c" stroke-width="1.55" stroke-linejoin="round" stroke-linecap="butt"/>
<path d="M496.35 138.77 L497.38 138.61 L498.42 138.43 L499.45 138.24 L500.48 138.04 L501.51 137.83 L502.54 137.6 L503.56 137.35 L504.58 137.09 L505.59 136.82 L506.6 136.53 L507.6 136.23 L508.6 135.91 L509.59 135.58 L510.58 135.23 L511.56 134.86 L512.53 134.48 L513.49 134.07 L514.44 133.66 L515.39 133.22 L516.32 132.77 L517.25 132.3 L518.16 131.81 L519.07 131.3 L519.96 130.77 L520.84 130.23 L521.71 129.66 L522.56 129.08 L523.41 128.47 L524.24 127.85 L525.05 127.21 L525.86 126.55 L526.65 125.87 L527.42 125.18 L528.19 124.47 L528.94 123.75 L529.67 123.01 L530.4 122.25 L531.11 121.49 L531.8 120.71 L532.49 119.91 L533.16 119.11 L533.82 118.29 L534.46 117.47 L535.09 116.63 L535.71 115.79 L536.31 114.93 L536.9 114.07 L537.48 113.2 L538.04 112.33 L538.59 111.45 L539.13 110.56 L539.65 109.66 L540.16 108.76 L540.66 107.86 L541.15 106.94 L541.63 106.03 L542.1 105.1 L542.55 104.18 L543 103.25 L543.44 102.31 L543.87 101.37 L544.29 100.42 L544.71 99.47 L545.11 98.52 L545.51 97.56 L545.91 96.6 L546.29 95.63 L546.67 94.67 L547.05 93.7 L547.42 92.72 L547.78 91.75 L548.15 90.77 L548.5 89.78 L548.86 88.8 L549.21 87.82 L549.56 86.83 L549.9 85.84 L550.25 84.85 L550.59 83.86 L550.94 82.86 L551.28 81.87 L551.62 80.87 L551.96 79.88 L552.31 78.88 L552.65 77.89 L553 76.89 L553.35 75.89 L553.7 74.9 L554.05 73.9 L554.41 72.91 L554.77 71.91 L555.14 70.92 L555.51 69.93 L555.89 68.94 L556.27 67.95 L556.66 66.97 L557.06 66 L557.47 65.03 L557.88 64.06 L558.31 63.11 L558.75 62.16 L559.2 61.22 L559.66 60.29 L560.14 59.37 L560.63 58.46 L561.14 57.56 L561.66 56.68 L562.2 55.8 L562.76 54.94 L563.33 54.1 L563.92 53.27 L564.53 52.46 L565.16 51.66 L565.81 50.88 L566.47 50.11 L567.15 49.35 L567.84 48.61 L568.55 47.88 L569.28 47.17 L570.02 46.47 L570.78 45.79 L571.55 45.11 L572.33 44.46 L573.13 43.81 L573.94 43.18 L574.76 42.56 L575.59 41.95 L576.44 41.36 L577.3 40.78 L578.17 40.21 L579.04 39.65 L579.93 39.1 L580.83 38.57 L581.74 38.05 L582.66 37.54 L583.58 37.04 L584.52 36.55 L585.46 36.08 L586.41 35.61 L587.37 35.16 L588.33 34.71 L589.3 34.28 L590.27 33.86 L591.25 33.45 L592.24 33.04 L593.23 32.65 L594.23 32.27 L595.22 31.9 L596.23 31.53 L597.23 31.18 L598.24 30.83 L599.25 30.5 L600.26 30.17 L601.27 29.85 L602.29 29.54 L603.3 29.24 L604.32 28.95 L605.33 28.66 L606.35 28.39 L607.36 28.12 L608.37 27.86 L609.38 27.6 L610.39 27.36 L611.4 27.12 L612.4 26.89 L613.4 26.66 L614.4 26.44 L615.39 26.23 L616.38 26.03 L617.36 25.83 L618.34 25.64 L619.31 25.45 L620.27 25.27 L621.23 25.1 L622.19 24.93 L628.2 21.7" fill="none" stroke="#f8ce0c" stroke-width="1.55" stroke-linejoin="round" stroke-linecap="butt"/>
<path d="M496.38 138.79 L497.45 138.59 L498.51 138.38 L499.57 138.15 L500.63 137.91 L501.7 137.66 L502.75 137.4 L503.81 137.13 L504.86 136.84 L505.91 136.53 L506.96 136.22 L507.99 135.88 L509.03 135.53 L510.06 135.17 L511.08 134.78 L512.09 134.38 L513.09 133.96 L514.09 133.52 L515.08 133.06 L516.06 132.58 L517.03 132.08 L517.98 131.56 L518.93 131.02 L519.86 130.45 L520.78 129.87 L521.69 129.25 L522.59 128.62 L523.47 127.96 L524.34 127.28 L525.19 126.58 L526.02 125.85 L526.84 125.11 L527.65 124.36 L528.44 123.58 L529.21 122.79 L529.97 121.99 L530.71 121.18 L531.43 120.35 L532.13 119.51 L532.82 118.67 L533.49 117.81 L534.14 116.95 L534.77 116.08 L535.39 115.2 L536 114.31 L536.59 113.41 L537.16 112.5 L537.72 111.59 L538.27 110.67 L538.8 109.74 L539.33 108.8 L539.83 107.86 L540.33 106.91 L540.82 105.95 L541.29 104.99 L541.75 104.02 L542.21 103.05 L542.65 102.07 L543.09 101.08 L543.51 100.09 L543.93 99.09 L544.34 98.09 L544.74 97.09 L545.13 96.08 L545.52 95.06 L545.9 94.05 L546.28 93.02 L546.65 92 L547.02 90.97 L547.38 89.94 L547.73 88.9 L548.09 87.86 L548.44 86.82 L548.78 85.78 L549.13 84.74 L549.47 83.69 L549.81 82.64 L550.16 81.59 L550.5 80.54 L550.84 79.49 L551.18 78.43 L551.52 77.38 L551.86 76.32 L552.2 75.27 L552.55 74.22 L552.9 73.16 L553.25 72.11 L553.6 71.05 L553.96 70 L554.32 68.95 L554.69 67.9 L555.07 66.86 L555.45 65.82 L555.83 64.78 L556.23 63.75 L556.63 62.72 L557.04 61.7 L557.46 60.68 L557.88 59.67 L558.32 58.67 L558.77 57.68 L559.23 56.69 L559.7 55.71 L560.19 54.75 L560.68 53.79 L561.19 52.84 L561.71 51.91 L562.25 50.99 L562.8 50.08 L563.37 49.18 L563.95 48.29 L564.55 47.42 L565.17 46.56 L565.81 45.72 L566.46 44.9 L567.13 44.09 L567.82 43.29 L568.53 42.52 L569.26 41.76 L570.01 41.02 L570.79 40.3 L571.58 39.6 L572.4 38.92 L573.24 38.26 L574.1 37.62 L574.99 37 L575.91 36.4 L576.84 35.83 L577.81 35.28 L578.79 34.75 L579.79 34.24 L580.81 33.76 L581.85 33.29 L582.9 32.85 L583.96 32.42 L585.03 32.02 L586.1 31.63 L587.19 31.26 L588.28 30.91 L589.37 30.58 L590.46 30.26 L591.54 29.96 L592.63 29.68 L593.71 29.42 L594.78 29.17 L595.84 28.93 L596.89 28.71 L597.92 28.5 L598.94 28.31 L599.94 28.13 L600.93 27.97 L601.89 27.82 L603.1 26.6 L603.4 24.6" fill="none" stroke="#22bcc4" stroke-width="1.55" stroke-linejoin="round" stroke-linecap="butt"/>
<path d="M496.35 138.79 L497.37 138.58 L498.39 138.37 L499.41 138.15 L500.44 137.91 L501.46 137.66 L502.48 137.4 L503.49 137.13 L504.51 136.84 L505.52 136.54 L506.52 136.23 L507.52 135.9 L508.52 135.56 L509.51 135.2 L510.49 134.82 L511.47 134.43 L512.44 134.02 L513.39 133.6 L514.34 133.15 L515.28 132.69 L516.21 132.21 L517.12 131.72 L518.03 131.2 L518.92 130.66 L519.8 130.11 L520.66 129.53 L521.51 128.93 L522.34 128.31 L523.16 127.67 L523.96 127.01 L524.75 126.34 L525.52 125.64 L526.28 124.93 L527.02 124.2 L527.75 123.46 L528.47 122.7 L529.17 121.94 L529.86 121.16 L530.53 120.36 L531.19 119.56 L531.84 118.76 L532.48 117.94 L533.1 117.11 L533.72 116.28 L534.32 115.43 L534.9 114.58 L535.48 113.72 L536.05 112.86 L536.6 111.98 L537.14 111.1 L537.68 110.21 L538.2 109.32 L538.71 108.41 L539.21 107.51 L539.7 106.59 L540.18 105.67 L540.65 104.74 L541.12 103.81 L541.57 102.87 L542.01 101.93 L542.45 100.98 L542.87 100.03 L543.29 99.07 L543.7 98.1 L544.1 97.14 L544.5 96.17 L544.88 95.19 L545.26 94.21 L545.63 93.23 L546 92.24 L546.35 91.25 L546.7 90.26 L547.05 89.26 L547.38 88.27 L547.72 87.26 L548.04 86.26 L548.36 85.26 L548.68 84.25 L548.98 83.24 L549.29 82.23 L549.59 81.22 L549.88 80.21 L550.17 79.19 L550.45 78.18 L550.74 77.16 L551.01 76.15 L551.28 75.13 L551.55 74.12 L551.82 73.1 L552.08 72.08 L552.34 71.07 L552.6 70.06 L552.86 69.04 L553.11 68.03 L553.37 67.02 L553.63 66.01 L553.89 65 L554.15 63.99 L554.42 62.99 L554.69 61.99 L554.96 60.98 L555.25 59.98 L555.53 58.99 L555.83 57.99 L556.14 57 L556.45 56.01 L556.78 55.02 L557.11 54.03 L557.46 53.05 L557.82 52.07 L558.19 51.1 L558.58 50.13 L558.98 49.17 L559.41 48.22 L559.85 47.28 L560.31 46.35 L560.79 45.44 L561.3 44.54 L561.83 43.66 L562.38 42.8 L562.96 41.95 L563.57 41.13 L564.21 40.33 L564.87 39.55 L565.56 38.8 L566.28 38.07 L567.02 37.37 L567.79 36.69 L568.58 36.04 L569.4 35.42 L570.24 34.82 L571.1 34.26 L571.99 33.73 L572.9 33.22 L573.84 32.75 L574.8 32.32 L575.78 31.91 L576.78 31.54 L577.8 31.21 L578.84 30.91 L579.9 30.65 L580.98 30.43 L582.08 30.24 L583.2 30.1 L578.9 28" fill="none" stroke="#f792c4" stroke-width="1.55" stroke-linejoin="round" stroke-linecap="butt"/>
<path d="M496.36 138.77 L497.38 138.58 L498.41 138.38 L499.43 138.16 L500.44 137.92 L501.46 137.66 L502.47 137.39 L503.48 137.1 L504.48 136.79 L505.48 136.47 L506.48 136.12 L507.46 135.77 L508.45 135.39 L509.42 135 L510.39 134.6 L511.35 134.17 L512.3 133.73 L513.25 133.28 L514.18 132.8 L515.11 132.32 L516.02 131.81 L516.93 131.29 L517.83 130.75 L518.71 130.2 L519.58 129.63 L520.45 129.05 L521.29 128.45 L522.13 127.83 L522.95 127.2 L523.76 126.55 L524.56 125.89 L525.34 125.21 L526.1 124.51 L526.85 123.8 L527.58 123.08 L528.3 122.34 L529 121.58 L529.68 120.81 L530.35 120.03 L531.01 119.23 L531.65 118.42 L532.27 117.6 L532.88 116.77 L533.48 115.92 L534.06 115.06 L534.63 114.19 L535.18 113.31 L535.72 112.42 L536.25 111.52 L536.77 110.62 L537.28 109.7 L537.77 108.77 L538.25 107.84 L538.72 106.9 L539.18 105.95 L539.63 105 L540.07 104.04 L540.5 103.07 L540.92 102.1 L541.33 101.13 L541.73 100.15 L542.12 99.16 L542.51 98.18 L542.88 97.19 L543.25 96.19 L543.61 95.2 L543.96 94.2 L544.31 93.21 L544.65 92.21 L544.98 91.21 L545.31 90.21 L545.63 89.21 L545.94 88.21 L546.25 87.22 L546.55 86.22 L546.85 85.23 L547.14 84.23 L547.43 83.23 L547.71 82.24 L547.99 81.24 L548.26 80.24 L548.52 79.25 L548.78 78.25 L549.03 77.25 L549.28 76.25 L549.52 75.25 L549.76 74.25 L549.99 73.25 L550.22 72.24 L550.44 71.24 L550.65 70.23 L550.86 69.22 L551.06 68.21 L551.26 67.2 L551.45 66.18 L551.64 65.16 L551.82 64.14 L552 63.12 L552.17 62.09 L552.34 61.07 L552.5 60.03 L552.65 59 L552.81 57.96 L552.96 56.92 L553.11 55.88 L553.26 54.84 L553.42 53.8 L553.58 52.76 L553.75 51.72 L553.93 50.68 L554.12 49.65 L554.33 48.62 L554.55 47.59 L554.79 46.56 L555.05 45.54 L555.33 44.53 L555.63 43.52 L555.96 42.52 L556.32 41.53 L556.71 40.56 L557.14 39.61 L557.61 38.7 L558.12 37.82 L558.68 36.97 L559.3 36.18 L559.97 35.43 L560.7 34.74 L561.5 34.11 L562.35 33.54 L563.26 33.05 L564.21 32.62 L565.21 32.26 L566.26 31.98 L567.33 31.78 L568.44 31.66 L569.58 31.63 L562.4 29.9" fill="none" stroke="#a3203f" stroke-width="1.55" stroke-linejoin="round" stroke-linecap="butt"/>
<line x1="132.6" y1="413.3" x2="35.3" y2="371.5" stroke="#dedede" stroke-width="0.7" stroke-dasharray="1.6 0.5"/>
<line x1="35.3" y1="371.5" x2="35.3" y2="265.8" stroke="#dedede" stroke-width="0.7" stroke-dasharray="1.6 0.5"/>
<line x1="157.17" y1="409.94" x2="59.83" y2="368.29" stroke="#dedede" stroke-width="0.7" stroke-dasharray="1.6 0.5"/>
<line x1="59.83" y1="368.29" x2="59.83" y2="262.57" stroke="#dedede" stroke-width="0.7" stroke-dasharray="1.6 0.5"/>
<line x1="181.74" y1="406.59" x2="84.36" y2="365.07" stroke="#dedede" stroke-width="0.7" stroke-dasharray="1.6 0.5"/>
<line x1="84.36" y1="365.07" x2="84.36" y2="259.34" stroke="#dedede" stroke-width="0.7" stroke-dasharray="1.6 0.5"/>
<line x1="206.31" y1="403.23" x2="108.89" y2="361.86" stroke="#dedede" stroke-width="0.7" stroke-dasharray="1.6 0.5"/>
<line x1="108.89" y1="361.86" x2="108.89" y2="256.11" stroke="#dedede" stroke-width="0.7" stroke-dasharray="1.6 0.5"/>
<line x1="230.89" y1="399.87" x2="133.41" y2="358.64" stroke="#dedede" stroke-width="0.7" stroke-dasharray="1.6 0.5"/>
<line x1="133.41" y1="358.64" x2="133.41" y2="252.89" stroke="#dedede" stroke-width="0.7" stroke-dasharray="1.6 0.5"/>
<line x1="255.46" y1="396.51" x2="157.94" y2="355.43" stroke="#dedede" stroke-width="0.7" stroke-dasharray="1.6 0.5"/>
<line x1="157.94" y1="355.43" x2="157.94" y2="249.66" stroke="#dedede" stroke-width="0.7" stroke-dasharray="1.6 0.5"/>
<line x1="280.03" y1="393.16" x2="182.47" y2="352.21" stroke="#dedede" stroke-width="0.7" stroke-dasharray="1.6 0.5"/>
<line x1="182.47" y1="352.21" x2="182.47" y2="246.43" stroke="#dedede" stroke-width="0.7" stroke-dasharray="1.6 0.5"/>
<line x1="304.6" y1="389.8" x2="207" y2="349" stroke="#dedede" stroke-width="0.7" stroke-dasharray="1.6 0.5"/>
<line x1="207" y1="349" x2="207" y2="243.2" stroke="#dedede" stroke-width="0.7" stroke-dasharray="1.6 0.5"/>
<line x1="132.6" y1="413.3" x2="304.6" y2="389.8" stroke="#dedede" stroke-width="0.7" stroke-dasharray="1.6 0.5"/>
<line x1="304.6" y1="389.8" x2="304.6" y2="284.1" stroke="#dedede" stroke-width="0.7" stroke-dasharray="1.6 0.5"/>
<line x1="108.27" y1="402.85" x2="280.2" y2="379.6" stroke="#dedede" stroke-width="0.7" stroke-dasharray="1.6 0.5"/>
<line x1="280.2" y1="379.6" x2="280.2" y2="273.88" stroke="#dedede" stroke-width="0.7" stroke-dasharray="1.6 0.5"/>
<line x1="83.95" y1="392.4" x2="255.8" y2="369.4" stroke="#dedede" stroke-width="0.7" stroke-dasharray="1.6 0.5"/>
<line x1="255.8" y1="369.4" x2="255.8" y2="263.65" stroke="#dedede" stroke-width="0.7" stroke-dasharray="1.6 0.5"/>
<line x1="59.62" y1="381.95" x2="231.4" y2="359.2" stroke="#dedede" stroke-width="0.7" stroke-dasharray="1.6 0.5"/>
<line x1="231.4" y1="359.2" x2="231.4" y2="253.43" stroke="#dedede" stroke-width="0.7" stroke-dasharray="1.6 0.5"/>
<line x1="35.3" y1="371.5" x2="207" y2="349" stroke="#dedede" stroke-width="0.7" stroke-dasharray="1.6 0.5"/>
<line x1="207" y1="349" x2="207" y2="243.2" stroke="#dedede" stroke-width="0.7" stroke-dasharray="1.6 0.5"/>
<line x1="35.3" y1="371.5" x2="207" y2="349" stroke="#dedede" stroke-width="0.7" stroke-dasharray="1.6 0.5"/>
<line x1="304.6" y1="389.8" x2="207" y2="349" stroke="#dedede" stroke-width="0.7" stroke-dasharray="1.6 0.5"/>
<line x1="35.3" y1="350.36" x2="207" y2="327.84" stroke="#dedede" stroke-width="0.7" stroke-dasharray="1.6 0.5"/>
<line x1="304.6" y1="368.66" x2="207" y2="327.84" stroke="#dedede" stroke-width="0.7" stroke-dasharray="1.6 0.5"/>
<line x1="35.3" y1="329.22" x2="207" y2="306.68" stroke="#dedede" stroke-width="0.7" stroke-dasharray="1.6 0.5"/>
<line x1="304.6" y1="347.52" x2="207" y2="306.68" stroke="#dedede" stroke-width="0.7" stroke-dasharray="1.6 0.5"/>
<line x1="35.3" y1="308.08" x2="207" y2="285.52" stroke="#dedede" stroke-width="0.7" stroke-dasharray="1.6 0.5"/>
<line x1="304.6" y1="326.38" x2="207" y2="285.52" stroke="#dedede" stroke-width="0.7" stroke-dasharray="1.6 0.5"/>
<line x1="35.3" y1="286.94" x2="207" y2="264.36" stroke="#dedede" stroke-width="0.7" stroke-dasharray="1.6 0.5"/>
<line x1="304.6" y1="305.24" x2="207" y2="264.36" stroke="#dedede" stroke-width="0.7" stroke-dasharray="1.6 0.5"/>
<line x1="35.3" y1="265.8" x2="207" y2="243.2" stroke="#dedede" stroke-width="0.7" stroke-dasharray="1.6 0.5"/>
<line x1="304.6" y1="284.1" x2="207" y2="243.2" stroke="#dedede" stroke-width="0.7" stroke-dasharray="1.6 0.5"/>
<line x1="132.6" y1="413.3" x2="304.6" y2="389.8" stroke="#5a5a5a" stroke-width="0.75"/>
<line x1="132.6" y1="413.3" x2="35.3" y2="371.5" stroke="#5a5a5a" stroke-width="0.75"/>
<line x1="35.3" y1="371.5" x2="35.3" y2="265.8" stroke="#a8a8a8" stroke-width="1.0"/>
<line x1="132.6" y1="413.3" x2="135.72" y2="414.64" stroke="#5a5a5a" stroke-width="0.75"/>
<line x1="157.17" y1="409.94" x2="160.3" y2="411.28" stroke="#5a5a5a" stroke-width="0.75"/>
<line x1="181.74" y1="406.59" x2="184.87" y2="407.93" stroke="#5a5a5a" stroke-width="0.75"/>
<line x1="206.31" y1="403.23" x2="209.44" y2="404.57" stroke="#5a5a5a" stroke-width="0.75"/>
<line x1="230.89" y1="399.87" x2="234.01" y2="401.21" stroke="#5a5a5a" stroke-width="0.75"/>
<line x1="255.46" y1="396.51" x2="258.58" y2="397.86" stroke="#5a5a5a" stroke-width="0.75"/>
<line x1="280.03" y1="393.16" x2="283.15" y2="394.5" stroke="#5a5a5a" stroke-width="0.75"/>
<line x1="304.6" y1="389.8" x2="307.72" y2="391.14" stroke="#5a5a5a" stroke-width="0.75"/>
<line x1="132.6" y1="413.3" x2="129.23" y2="413.76" stroke="#5a5a5a" stroke-width="0.75"/>
<line x1="108.27" y1="402.85" x2="104.91" y2="403.31" stroke="#5a5a5a" stroke-width="0.75"/>
<line x1="83.95" y1="392.4" x2="80.58" y2="392.86" stroke="#5a5a5a" stroke-width="0.75"/>
<line x1="59.62" y1="381.95" x2="56.26" y2="382.41" stroke="#5a5a5a" stroke-width="0.75"/>
<line x1="35.3" y1="371.5" x2="31.93" y2="371.96" stroke="#5a5a5a" stroke-width="0.75"/>
<line x1="35.3" y1="371.5" x2="32.18" y2="370.16" stroke="#5a5a5a" stroke-width="0.75"/>
<line x1="35.3" y1="350.36" x2="32.18" y2="349.02" stroke="#5a5a5a" stroke-width="0.75"/>
<line x1="35.3" y1="329.22" x2="32.18" y2="327.88" stroke="#5a5a5a" stroke-width="0.75"/>
<line x1="35.3" y1="308.08" x2="32.18" y2="306.74" stroke="#5a5a5a" stroke-width="0.75"/>
<line x1="35.3" y1="286.94" x2="32.18" y2="285.6" stroke="#5a5a5a" stroke-width="0.75"/>
<line x1="35.3" y1="265.8" x2="32.18" y2="264.46" stroke="#5a5a5a" stroke-width="0.75"/>
<text x="138.1" y="421.83" font-size="6.8" text-anchor="start" font-weight="bold" fill="#262626" font-family="Liberation Sans">0</text>
<text x="162.67" y="418.48" font-size="6.8" text-anchor="start" font-weight="bold" fill="#262626" font-family="Liberation Sans">100</text>
<text x="187.24" y="415.12" font-size="6.8" text-anchor="start" font-weight="bold" fill="#262626" font-family="Liberation Sans">200</text>
<text x="211.81" y="411.76" font-size="6.8" text-anchor="start" font-weight="bold" fill="#262626" font-family="Liberation Sans">300</text>
<text x="236.39" y="408.41" font-size="6.8" text-anchor="start" font-weight="bold" fill="#262626" font-family="Liberation Sans">400</text>
<text x="260.96" y="405.05" font-size="6.8" text-anchor="start" font-weight="bold" fill="#262626" font-family="Liberation Sans">500</text>
<text x="285.53" y="401.69" font-size="6.8" text-anchor="start" font-weight="bold" fill="#262626" font-family="Liberation Sans">600</text>
<text x="310.1" y="398.33" font-size="6.8" text-anchor="start" font-weight="bold" fill="#262626" font-family="Liberation Sans">700</text>
<text x="125.5" y="420.73" font-size="6.8" text-anchor="end" font-weight="bold" fill="#262626" font-family="Liberation Sans">200</text>
<text x="101.17" y="410.28" font-size="6.8" text-anchor="end" font-weight="bold" fill="#262626" font-family="Liberation Sans">300</text>
<text x="76.85" y="399.83" font-size="6.8" text-anchor="end" font-weight="bold" fill="#262626" font-family="Liberation Sans">400</text>
<text x="52.52" y="389.38" font-size="6.8" text-anchor="end" font-weight="bold" fill="#262626" font-family="Liberation Sans">500</text>
<text x="28.2" y="378.93" font-size="6.8" text-anchor="end" font-weight="bold" fill="#262626" font-family="Liberation Sans">600</text>
<text x="28.3" y="373.03" font-size="6.8" text-anchor="end" font-weight="bold" fill="#262626" font-family="Liberation Sans">100</text>
<text x="28.3" y="351.89" font-size="6.8" text-anchor="end" font-weight="bold" fill="#262626" font-family="Liberation Sans">200</text>
<text x="28.3" y="330.75" font-size="6.8" text-anchor="end" font-weight="bold" fill="#262626" font-family="Liberation Sans">300</text>
<text x="28.3" y="309.61" font-size="6.8" text-anchor="end" font-weight="bold" fill="#262626" font-family="Liberation Sans">400</text>
<text x="28.3" y="288.47" font-size="6.8" text-anchor="end" font-weight="bold" fill="#262626" font-family="Liberation Sans">500</text>
<text x="28.3" y="267.33" font-size="6.8" text-anchor="end" font-weight="bold" fill="#262626" font-family="Liberation Sans">600</text>
<text x="205.5" y="429.3" font-size="8.4" text-anchor="start" font-weight="bold" fill="#1a1a1a" font-family="Liberation Sans">I<tspan font-size="6.0" dy="4.0">TH</tspan><tspan dy="-4.0">(t)</tspan></text>
<text x="57.6" y="425.3" font-size="8.4" text-anchor="start" font-weight="bold" fill="#1a1a1a" font-family="Liberation Sans">A<tspan font-size="6.0" dy="4.0">H</tspan><tspan dy="-4.0">(t)</tspan></text>
<text x="7.3" y="328.6" font-size="8.4" text-anchor="start" font-weight="bold" fill="#1a1a1a" font-family="Liberation Sans" transform="rotate(-90 7.3 328.6)">C<tspan font-size="6.0" dy="4.0">T</tspan><tspan dy="-4.0">(t)</tspan></text>
<path d="M220.85 275.89 L219.57 275.62 L218.28 275.35 L217 275.08 L215.72 274.8 L214.43 274.53 L213.15 274.25 L211.87 273.98 L210.58 273.7 L209.3 273.43 L208.01 273.16 L206.73 272.88 L205.45 272.61 L204.16 272.34 L202.88 272.07 L201.6 271.81 L200.31 271.54 L199.03 271.27 L197.74 271.01 L196.46 270.75 L195.17 270.49 L193.89 270.24 L192.6 269.98 L191.32 269.73 L190.03 269.49 L188.75 269.24 L187.46 269 L186.17 268.76 L184.89 268.53 L183.6 268.3 L182.31 268.07 L181.02 267.85 L179.73 267.63 L178.44 267.42 L177.16 267.21 L175.87 267 L174.58 266.8 L173.28 266.61 L171.99 266.42 L170.7 266.23 L169.41 266.06 L168.12 265.88 L166.82 265.72 L165.53 265.56 L164.23 265.4 L162.94 265.25 L161.64 265.11 L160.35 264.98 L159.05 264.85 L157.75 264.73 L156.45 264.62 L155.15 264.51 L153.85 264.41 L152.55 264.32 L151.25 264.24 L149.95 264.17 L148.65 264.1 L147.34 264.04 L146.04 264 L144.73 263.96 L143.43 263.92 L142.12 263.9 L140.81 263.89 L139.5 263.89 L138.19 263.89 L136.88 263.91 L135.57 263.93 L134.26 263.97 L132.94 264.02 L131.63 264.07 L130.31 264.14 L129 264.22 L127.68 264.31 L126.36 264.41 L125.04 264.52 L123.72 264.64 L122.4 264.78 L121.07 264.92 L119.75 265.08 L118.43 265.25 L117.1 265.43 L115.77 265.63 L114.45 265.84 L113.12 266.07 L111.8 266.31 L110.49 266.56 L109.18 266.84 L107.87 267.13 L106.58 267.45 L105.29 267.78 L104.01 268.13 L102.75 268.51 L101.5 268.91 L100.26 269.34 L99.04 269.79 L97.83 270.26 L96.64 270.77 L95.47 271.3 L94.32 271.86 L93.19 272.45 L92.08 273.07 L90.99 273.72 L89.93 274.41 L88.9 275.12 L87.89 275.88 L86.91 276.67 L85.95 277.49 L85.03 278.35 L84.14 279.25 L83.28 280.19 L82.46 281.17 L81.67 282.19 L80.92 283.24 L80.2 284.33 L79.51 285.46 L78.86 286.61 L78.24 287.79 L77.66 288.99 L77.11 290.22 L76.6 291.46 L76.12 292.73 L75.67 294 L75.26 295.29 L74.88 296.59 L74.54 297.89 L74.23 299.2 L73.96 300.5 L73.72 301.81 L73.51 303.11 L73.33 304.42 L73.19 305.72 L73.07 307.02 L72.99 308.32 L72.93 309.62 L72.9 310.91 L72.9 312.21 L72.92 313.51 L72.96 314.8 L73.02 316.09 L73.11 317.39 L73.22 318.68 L73.35 319.97 L73.49 321.26 L73.66 322.55 L73.84 323.84 L74.03 325.13 L74.24 326.42 L74.46 327.71 L74.7 329 L74.94 330.3 L75.2 331.59 L75.47 332.87 L75.75 334.16 L76.05 335.45 L76.36 336.73 L76.68 338 L77.02 339.27 L77.38 340.54 L77.76 341.79 L78.16 343.04 L78.58 344.28 L79.01 345.51 L79.47 346.73 L79.95 347.94 L80.46 349.13 L80.99 350.31 L81.54 351.48 L82.12 352.63 L82.73 353.77 L83.37 354.89 L84.03 355.99 L84.72 357.08 L85.45 358.14 L86.19 359.19 L86.93 360.25 L87.67 361.3 L88.4 362.36 L89.12 363.43 L89.82 364.52 L90.5 365.62 L91.16 366.73 L91.81 367.86 L92.44 369 L93.06 370.15 L93.67 371.31 L94.29 372.46 L94.91 373.61 L95.54 374.76 L96.19 375.9 L96.86 377.03 L97.54 378.14 L98.25 379.25 L98.97 380.34 L99.71 381.42 L100.46 382.49 L101.22 383.55 L102 384.61 L102.79 385.66 L103.59 386.7 L104.39 387.73 L105.21 388.76 L106.03 389.79 L106.86 390.81 L107.69 391.82 L108.52 392.84 L109.36 393.85 L110.2 394.86 L111.04 395.87 L111.87 396.88 L112.71 397.89 L113.54 398.9 L114.36 399.91 L115.18 400.93 L115.99 401.95 L116.8 402.98 L117.59 404" fill="none" stroke="#a3203f" stroke-width="1.55" stroke-linejoin="round" stroke-linecap="butt"/>
<path d="M211.42 277.33 L210.19 277.08 L208.97 276.83 L207.75 276.58 L206.52 276.32 L205.3 276.07 L204.08 275.82 L202.86 275.56 L201.63 275.31 L200.41 275.06 L199.19 274.81 L197.97 274.56 L196.74 274.31 L195.52 274.07 L194.3 273.82 L193.07 273.58 L191.85 273.34 L190.63 273.1 L189.4 272.86 L188.18 272.63 L186.95 272.39 L185.73 272.16 L184.51 271.94 L183.28 271.71 L182.06 271.49 L180.83 271.27 L179.61 271.06 L178.38 270.85 L177.15 270.64 L175.93 270.44 L174.7 270.24 L173.47 270.05 L172.24 269.85 L171.02 269.67 L169.79 269.49 L168.56 269.31 L167.33 269.14 L166.1 268.98 L164.87 268.82 L163.64 268.66 L162.41 268.51 L161.17 268.37 L159.94 268.23 L158.71 268.1 L157.47 267.98 L156.24 267.86 L155 267.75 L153.77 267.64 L152.53 267.54 L151.29 267.45 L150.06 267.37 L148.82 267.29 L147.58 267.22 L146.34 267.16 L145.1 267.11 L143.85 267.07 L142.61 267.03 L141.37 267 L140.12 266.99 L138.88 266.97 L137.63 266.97 L136.38 266.98 L135.14 267 L133.89 267.02 L132.64 267.06 L131.39 267.11 L130.13 267.16 L128.88 267.23 L127.63 267.3 L126.37 267.39 L125.12 267.49 L123.86 267.59 L122.6 267.71 L121.34 267.84 L120.08 267.98 L118.82 268.13 L117.56 268.3 L116.29 268.47 L115.03 268.66 L113.77 268.86 L112.51 269.08 L111.25 269.31 L110 269.56 L108.76 269.82 L107.52 270.1 L106.29 270.4 L105.07 270.72 L103.86 271.07 L102.66 271.43 L101.48 271.81 L100.3 272.22 L99.14 272.65 L98 273.11 L96.88 273.59 L95.77 274.1 L94.68 274.64 L93.61 275.2 L92.57 275.79 L91.54 276.41 L90.54 277.07 L89.56 277.75 L88.61 278.47 L87.69 279.22 L86.79 280 L85.92 280.82 L85.08 281.67 L84.27 282.56 L83.5 283.49 L82.76 284.46 L82.05 285.46 L81.37 286.49 L80.73 287.56 L80.11 288.65 L79.53 289.77 L78.98 290.92 L78.46 292.09 L77.98 293.27 L77.52 294.48 L77.09 295.69 L76.69 296.93 L76.32 298.17 L75.98 299.41 L75.67 300.67 L75.38 301.92 L75.13 303.18 L74.9 304.44 L74.7 305.69 L74.53 306.94 L74.38 308.19 L74.25 309.43 L74.16 310.67 L74.08 311.91 L74.04 313.14 L74.01 314.38 L74.01 315.61 L74.03 316.83 L74.07 318.06 L74.13 319.28 L74.22 320.51 L74.32 321.73 L74.45 322.95 L74.59 324.17 L74.75 325.39 L74.93 326.6 L75.13 327.82 L75.34 329.04 L75.58 330.25 L75.82 331.47 L76.09 332.68 L76.37 333.89 L76.67 335.1 L76.98 336.31 L77.31 337.51 L77.65 338.71 L78.01 339.91 L78.38 341.1 L78.77 342.29 L79.18 343.48 L79.6 344.65 L80.04 345.82 L80.49 346.99 L80.96 348.15 L81.44 349.3 L81.93 350.44 L82.45 351.58 L82.97 352.7 L83.51 353.82 L84.07 354.92 L84.63 356.02 L85.22 357.11 L85.82 358.18 L86.43 359.25 L87.05 360.3 L87.67 361.36 L88.31 362.41 L88.94 363.45 L89.58 364.5 L90.22 365.55 L90.85 366.61 L91.47 367.68 L92.09 368.74 L92.71 369.82 L93.33 370.89 L93.95 371.97 L94.58 373.05 L95.21 374.12 L95.85 375.19 L96.49 376.25 L97.15 377.31 L97.82 378.36 L98.51 379.4 L99.2 380.44 L99.9 381.47 L100.61 382.49 L101.32 383.51 L102.05 384.53 L102.78 385.54 L103.53 386.54 L104.27 387.54 L105.03 388.53 L105.79 389.52 L106.55 390.51 L107.32 391.49 L108.1 392.47 L108.88 393.45 L109.66 394.42 L110.45 395.39 L111.24 396.35 L112.03 397.31 L112.83 398.27 L113.62 399.23 L114.42 400.19 L115.21 401.14 L116.01 402.09 L116.81 403.05 L117.6 404" fill="none" stroke="#f792c4" stroke-width="1.55" stroke-linejoin="round" stroke-linecap="butt"/>
<path d="M201.36 278.69 L200.18 278.37 L199 278.05 L197.81 277.74 L196.62 277.44 L195.43 277.14 L194.24 276.85 L193.05 276.57 L191.86 276.29 L190.66 276.02 L189.46 275.76 L188.27 275.5 L187.07 275.25 L185.86 275.01 L184.66 274.77 L183.46 274.54 L182.25 274.32 L181.05 274.1 L179.84 273.89 L178.63 273.69 L177.42 273.49 L176.21 273.3 L175 273.11 L173.79 272.93 L172.58 272.76 L171.37 272.59 L170.15 272.43 L168.94 272.27 L167.72 272.12 L166.51 271.98 L165.29 271.84 L164.08 271.71 L162.86 271.58 L161.65 271.46 L160.43 271.35 L159.21 271.24 L158 271.13 L156.78 271.03 L155.56 270.94 L154.35 270.85 L153.13 270.77 L151.92 270.7 L150.7 270.62 L149.48 270.56 L148.27 270.5 L147.05 270.44 L145.84 270.4 L144.62 270.35 L143.41 270.31 L142.19 270.28 L140.98 270.26 L139.76 270.24 L138.54 270.22 L137.32 270.22 L136.1 270.22 L134.88 270.22 L133.65 270.24 L132.43 270.26 L131.2 270.28 L129.97 270.32 L128.74 270.36 L127.5 270.41 L126.26 270.46 L125.02 270.52 L123.78 270.59 L122.54 270.67 L121.29 270.76 L120.03 270.85 L118.78 270.96 L117.52 271.07 L116.26 271.19 L114.99 271.32 L113.73 271.46 L112.47 271.62 L111.21 271.8 L109.96 271.99 L108.72 272.21 L107.48 272.45 L106.26 272.72 L105.05 273.01 L103.85 273.34 L102.67 273.69 L101.51 274.08 L100.36 274.51 L99.24 274.97 L98.14 275.47 L97.07 276.01 L96.01 276.59 L94.98 277.2 L93.98 277.85 L92.99 278.53 L92.03 279.24 L91.1 279.99 L90.19 280.76 L89.3 281.57 L88.44 282.4 L87.6 283.27 L86.79 284.15 L86 285.07 L85.23 286 L84.49 286.97 L83.78 287.95 L83.09 288.95 L82.43 289.98 L81.8 291.02 L81.19 292.08 L80.61 293.16 L80.05 294.26 L79.52 295.37 L79.02 296.49 L78.54 297.63 L78.09 298.77 L77.67 299.93 L77.28 301.1 L76.91 302.28 L76.57 303.46 L76.26 304.65 L75.98 305.85 L75.72 307.05 L75.5 308.26 L75.3 309.46 L75.13 310.67 L75 311.88 L74.88 313.09 L74.8 314.3 L74.75 315.51 L74.72 316.72 L74.71 317.93 L74.73 319.14 L74.78 320.35 L74.85 321.56 L74.94 322.77 L75.06 323.97 L75.2 325.18 L75.36 326.38 L75.55 327.59 L75.75 328.79 L75.97 329.99 L76.22 331.19 L76.48 332.38 L76.76 333.57 L77.06 334.77 L77.38 335.95 L77.72 337.14 L78.07 338.32 L78.43 339.5 L78.81 340.67 L79.21 341.85 L79.62 343.02 L80.05 344.18 L80.48 345.34 L80.93 346.5 L81.4 347.65 L81.87 348.8 L82.35 349.94 L82.85 351.08 L83.35 352.21 L83.86 353.34 L84.39 354.46 L84.91 355.58 L85.45 356.69 L86 357.79 L86.55 358.89 L87.1 359.99 L87.66 361.07 L88.23 362.15 L88.81 363.23 L89.39 364.3 L89.98 365.37 L90.57 366.43 L91.17 367.48 L91.77 368.53 L92.38 369.58 L93 370.62 L93.63 371.65 L94.26 372.68 L94.89 373.71 L95.53 374.73 L96.18 375.75 L96.84 376.76 L97.5 377.77 L98.16 378.78 L98.84 379.78 L99.52 380.78 L100.2 381.78 L100.89 382.77 L101.59 383.76 L102.29 384.75 L103 385.73 L103.72 386.71 L104.44 387.69 L105.17 388.67 L105.9 389.64 L106.64 390.61 L107.39 391.58 L108.14 392.55 L108.9 393.52 L109.66 394.48 L110.43 395.44 L111.21 396.4 L111.99 397.36 L112.78 398.32 L113.57 399.28 L114.38 400.23 L115.18 401.19 L116 402.14 L116.82 403.1 L117.64 404.05" fill="none" stroke="#22bcc4" stroke-width="1.55" stroke-linejoin="round" stroke-linecap="butt"/>
<path d="M191.64 280.15 L190.46 279.79 L189.27 279.44 L188.09 279.11 L186.91 278.8 L185.73 278.5 L184.55 278.21 L183.38 277.94 L182.2 277.68 L181.02 277.43 L179.85 277.2 L178.67 276.98 L177.49 276.76 L176.32 276.56 L175.14 276.37 L173.97 276.19 L172.79 276.01 L171.61 275.85 L170.44 275.7 L169.26 275.55 L168.08 275.41 L166.9 275.28 L165.72 275.15 L164.54 275.03 L163.36 274.92 L162.17 274.81 L160.99 274.7 L159.8 274.6 L158.61 274.51 L157.42 274.42 L156.23 274.33 L155.04 274.24 L153.84 274.15 L152.65 274.07 L151.45 273.99 L150.24 273.91 L149.04 273.83 L147.83 273.75 L146.62 273.67 L145.41 273.6 L144.19 273.52 L142.98 273.45 L141.76 273.38 L140.54 273.32 L139.32 273.26 L138.1 273.21 L136.88 273.16 L135.65 273.12 L134.43 273.09 L133.2 273.06 L131.97 273.04 L130.75 273.03 L129.52 273.03 L128.29 273.04 L127.06 273.05 L125.83 273.08 L124.6 273.12 L123.38 273.17 L122.15 273.24 L120.92 273.31 L119.69 273.4 L118.47 273.51 L117.24 273.63 L116.02 273.76 L114.8 273.91 L113.58 274.08 L112.37 274.27 L111.16 274.47 L109.96 274.7 L108.77 274.96 L107.59 275.24 L106.42 275.54 L105.26 275.88 L104.12 276.24 L102.99 276.63 L101.88 277.05 L100.78 277.51 L99.71 278 L98.65 278.53 L97.61 279.09 L96.59 279.69 L95.59 280.31 L94.61 280.97 L93.66 281.66 L92.72 282.39 L91.81 283.13 L90.91 283.91 L90.04 284.72 L89.2 285.55 L88.37 286.4 L87.57 287.28 L86.79 288.19 L86.04 289.11 L85.31 290.06 L84.6 291.02 L83.92 292.01 L83.26 293.02 L82.63 294.04 L82.03 295.08 L81.45 296.13 L80.89 297.2 L80.37 298.28 L79.87 299.38 L79.39 300.49 L78.95 301.61 L78.53 302.74 L78.14 303.87 L77.78 305.02 L77.45 306.17 L77.15 307.33 L76.87 308.49 L76.63 309.66 L76.41 310.83 L76.23 312 L76.07 313.18 L75.95 314.36 L75.85 315.54 L75.78 316.72 L75.73 317.91 L75.71 319.09 L75.72 320.28 L75.75 321.47 L75.81 322.65 L75.89 323.84 L75.99 325.03 L76.12 326.22 L76.27 327.41 L76.44 328.6 L76.63 329.79 L76.84 330.97 L77.08 332.16 L77.33 333.34 L77.6 334.52 L77.89 335.7 L78.19 336.88 L78.51 338.06 L78.85 339.23 L79.21 340.4 L79.58 341.57 L79.96 342.74 L80.36 343.9 L80.78 345.05 L81.2 346.21 L81.64 347.36 L82.09 348.5 L82.55 349.64 L83.02 350.77 L83.51 351.9 L84 353.03 L84.5 354.15 L85.01 355.26 L85.53 356.37 L86.05 357.47 L86.58 358.56 L87.12 359.65 L87.66 360.73 L88.21 361.81 L88.77 362.87 L89.33 363.94 L89.89 364.99 L90.47 366.04 L91.05 367.08 L91.63 368.12 L92.22 369.16 L92.82 370.18 L93.42 371.21 L94.03 372.22 L94.65 373.24 L95.27 374.25 L95.9 375.25 L96.53 376.25 L97.17 377.24 L97.82 378.24 L98.47 379.22 L99.13 380.21 L99.8 381.19 L100.47 382.16 L101.15 383.14 L101.83 384.11 L102.52 385.08 L103.22 386.04 L103.92 387 L104.63 387.96 L105.34 388.92 L106.06 389.87 L106.79 390.83 L107.53 391.78 L108.27 392.73 L109.01 393.68 L109.76 394.62 L110.52 395.57 L111.29 396.51 L112.06 397.46 L112.84 398.4 L113.62 399.34 L114.41 400.29 L115.21 401.23 L116.02 402.17 L116.83 403.11 L117.64 404.05" fill="none" stroke="#f8ce0c" stroke-width="1.55" stroke-linejoin="round" stroke-linecap="butt"/>
<path d="M182.14 281.21 L180.94 280.98 L179.75 280.74 L178.56 280.51 L177.38 280.29 L176.2 280.08 L175.02 279.86 L173.85 279.66 L172.67 279.46 L171.51 279.27 L170.34 279.08 L169.17 278.89 L168.01 278.72 L166.85 278.55 L165.69 278.38 L164.53 278.22 L163.38 278.06 L162.22 277.92 L161.06 277.77 L159.91 277.63 L158.75 277.5 L157.6 277.38 L156.44 277.26 L155.28 277.14 L154.13 277.03 L152.97 276.93 L151.81 276.83 L150.65 276.74 L149.48 276.65 L148.32 276.57 L147.15 276.5 L145.98 276.43 L144.81 276.36 L143.64 276.31 L142.46 276.26 L141.28 276.21 L140.09 276.17 L138.9 276.13 L137.71 276.11 L136.51 276.08 L135.31 276.07 L134.1 276.06 L132.89 276.05 L131.68 276.05 L130.46 276.06 L129.23 276.07 L128 276.1 L126.78 276.13 L125.55 276.17 L124.32 276.22 L123.09 276.28 L121.86 276.36 L120.63 276.45 L119.41 276.55 L118.19 276.67 L116.97 276.8 L115.76 276.95 L114.56 277.11 L113.36 277.29 L112.17 277.5 L110.99 277.72 L109.82 277.96 L108.66 278.22 L107.51 278.5 L106.37 278.8 L105.24 279.13 L104.13 279.48 L103.03 279.86 L101.94 280.26 L100.87 280.69 L99.82 281.14 L98.78 281.63 L97.77 282.14 L96.77 282.68 L95.79 283.25 L94.83 283.85 L93.89 284.48 L92.97 285.15 L92.08 285.85 L91.21 286.58 L90.36 287.34 L89.54 288.14 L88.74 288.97 L87.97 289.82 L87.22 290.71 L86.49 291.62 L85.79 292.55 L85.11 293.51 L84.46 294.49 L83.83 295.5 L83.23 296.52 L82.66 297.56 L82.11 298.63 L81.58 299.71 L81.08 300.8 L80.61 301.91 L80.17 303.03 L79.75 304.16 L79.35 305.31 L78.99 306.46 L78.65 307.62 L78.33 308.79 L78.05 309.97 L77.79 311.15 L77.56 312.33 L77.36 313.52 L77.18 314.7 L77.04 315.89 L76.92 317.08 L76.83 318.26 L76.76 319.44 L76.73 320.62 L76.72 321.8 L76.73 322.97 L76.77 324.15 L76.83 325.32 L76.92 326.49 L77.03 327.66 L77.16 328.82 L77.32 329.98 L77.5 331.14 L77.69 332.3 L77.91 333.46 L78.15 334.61 L78.4 335.76 L78.68 336.9 L78.97 338.05 L79.28 339.19 L79.6 340.32 L79.95 341.46 L80.3 342.59 L80.68 343.72 L81.06 344.84 L81.46 345.96 L81.88 347.08 L82.3 348.19 L82.74 349.3 L83.19 350.41 L83.65 351.51 L84.12 352.61 L84.6 353.71 L85.09 354.8 L85.59 355.88 L86.1 356.96 L86.61 358.04 L87.13 359.12 L87.66 360.19 L88.19 361.25 L88.72 362.31 L89.27 363.37 L89.82 364.42 L90.37 365.47 L90.93 366.51 L91.5 367.55 L92.07 368.58 L92.65 369.61 L93.23 370.64 L93.82 371.66 L94.42 372.67 L95.02 373.69 L95.63 374.7 L96.24 375.7 L96.86 376.7 L97.49 377.7 L98.12 378.69 L98.76 379.68 L99.4 380.66 L100.05 381.64 L100.71 382.62 L101.37 383.59 L102.04 384.55 L102.72 385.52 L103.4 386.48 L104.09 387.43 L104.79 388.39 L105.49 389.33 L106.2 390.28 L106.92 391.22 L107.64 392.15 L108.37 393.09 L109.11 394.01 L109.85 394.94 L110.6 395.86 L111.36 396.78 L112.12 397.69 L112.89 398.6 L113.67 399.51 L114.45 400.41 L115.24 401.31 L116.04 402.2 L116.85 403.09 L117.66 403.98" fill="none" stroke="#d8862c" stroke-width="1.55" stroke-linejoin="round" stroke-linecap="butt"/>
<line x1="562.5" y1="412.8" x2="392.7" y2="382.5" stroke="#dedede" stroke-width="0.7" stroke-dasharray="1.6 0.5"/>
<line x1="392.7" y1="382.5" x2="392.7" y2="294.3" stroke="#dedede" stroke-width="0.7" stroke-dasharray="1.6 0.5"/>
<line x1="582.5" y1="402.62" x2="412.7" y2="372.32" stroke="#dedede" stroke-width="0.7" stroke-dasharray="1.6 0.5"/>
<line x1="412.7" y1="372.32" x2="412.7" y2="284.12" stroke="#dedede" stroke-width="0.7" stroke-dasharray="1.6 0.5"/>
<line x1="602.5" y1="392.44" x2="432.7" y2="362.14" stroke="#dedede" stroke-width="0.7" stroke-dasharray="1.6 0.5"/>
<line x1="432.7" y1="362.14" x2="432.7" y2="273.94" stroke="#dedede" stroke-width="0.7" stroke-dasharray="1.6 0.5"/>
<line x1="622.5" y1="382.26" x2="452.7" y2="351.96" stroke="#dedede" stroke-width="0.7" stroke-dasharray="1.6 0.5"/>
<line x1="452.7" y1="351.96" x2="452.7" y2="263.76" stroke="#dedede" stroke-width="0.7" stroke-dasharray="1.6 0.5"/>
<line x1="642.5" y1="372.08" x2="472.7" y2="341.78" stroke="#dedede" stroke-width="0.7" stroke-dasharray="1.6 0.5"/>
<line x1="472.7" y1="341.78" x2="472.7" y2="253.58" stroke="#dedede" stroke-width="0.7" stroke-dasharray="1.6 0.5"/>
<line x1="662.5" y1="361.9" x2="492.7" y2="331.6" stroke="#dedede" stroke-width="0.7" stroke-dasharray="1.6 0.5"/>
<line x1="492.7" y1="331.6" x2="492.7" y2="243.4" stroke="#dedede" stroke-width="0.7" stroke-dasharray="1.6 0.5"/>
<line x1="562.5" y1="412.8" x2="662.5" y2="361.9" stroke="#dedede" stroke-width="0.7" stroke-dasharray="1.6 0.5"/>
<line x1="662.5" y1="361.9" x2="662.5" y2="273.7" stroke="#dedede" stroke-width="0.7" stroke-dasharray="1.6 0.5"/>
<line x1="534.2" y1="407.75" x2="634.2" y2="356.85" stroke="#dedede" stroke-width="0.7" stroke-dasharray="1.6 0.5"/>
<line x1="634.2" y1="356.85" x2="634.2" y2="268.65" stroke="#dedede" stroke-width="0.7" stroke-dasharray="1.6 0.5"/>
<line x1="505.9" y1="402.7" x2="605.9" y2="351.8" stroke="#dedede" stroke-width="0.7" stroke-dasharray="1.6 0.5"/>
<line x1="605.9" y1="351.8" x2="605.9" y2="263.6" stroke="#dedede" stroke-width="0.7" stroke-dasharray="1.6 0.5"/>
<line x1="477.6" y1="397.65" x2="577.6" y2="346.75" stroke="#dedede" stroke-width="0.7" stroke-dasharray="1.6 0.5"/>
<line x1="577.6" y1="346.75" x2="577.6" y2="258.55" stroke="#dedede" stroke-width="0.7" stroke-dasharray="1.6 0.5"/>
<line x1="449.3" y1="392.6" x2="549.3" y2="341.7" stroke="#dedede" stroke-width="0.7" stroke-dasharray="1.6 0.5"/>
<line x1="549.3" y1="341.7" x2="549.3" y2="253.5" stroke="#dedede" stroke-width="0.7" stroke-dasharray="1.6 0.5"/>
<line x1="421" y1="387.55" x2="521" y2="336.65" stroke="#dedede" stroke-width="0.7" stroke-dasharray="1.6 0.5"/>
<line x1="521" y1="336.65" x2="521" y2="248.45" stroke="#dedede" stroke-width="0.7" stroke-dasharray="1.6 0.5"/>
<line x1="392.7" y1="382.5" x2="492.7" y2="331.6" stroke="#dedede" stroke-width="0.7" stroke-dasharray="1.6 0.5"/>
<line x1="492.7" y1="331.6" x2="492.7" y2="243.4" stroke="#dedede" stroke-width="0.7" stroke-dasharray="1.6 0.5"/>
<line x1="392.7" y1="382.5" x2="492.7" y2="331.6" stroke="#dedede" stroke-width="0.7" stroke-dasharray="1.6 0.5"/>
<line x1="662.5" y1="361.9" x2="492.7" y2="331.6" stroke="#dedede" stroke-width="0.7" stroke-dasharray="1.6 0.5"/>
<line x1="392.7" y1="367.8" x2="492.7" y2="316.9" stroke="#dedede" stroke-width="0.7" stroke-dasharray="1.6 0.5"/>
<line x1="662.5" y1="347.2" x2="492.7" y2="316.9" stroke="#dedede" stroke-width="0.7" stroke-dasharray="1.6 0.5"/>
<line x1="392.7" y1="353.1" x2="492.7" y2="302.2" stroke="#dedede" stroke-width="0.7" stroke-dasharray="1.6 0.5"/>
<line x1="662.5" y1="332.5" x2="492.7" y2="302.2" stroke="#dedede" stroke-width="0.7" stroke-dasharray="1.6 0.5"/>
<line x1="392.7" y1="338.4" x2="492.7" y2="287.5" stroke="#dedede" stroke-width="0.7" stroke-dasharray="1.6 0.5"/>
<line x1="662.5" y1="317.8" x2="492.7" y2="287.5" stroke="#dedede" stroke-width="0.7" stroke-dasharray="1.6 0.5"/>
<line x1="392.7" y1="323.7" x2="492.7" y2="272.8" stroke="#dedede" stroke-width="0.7" stroke-dasharray="1.6 0.5"/>
<line x1="662.5" y1="303.1" x2="492.7" y2="272.8" stroke="#dedede" stroke-width="0.7" stroke-dasharray="1.6 0.5"/>
<line x1="392.7" y1="309" x2="492.7" y2="258.1" stroke="#dedede" stroke-width="0.7" stroke-dasharray="1.6 0.5"/>
<line x1="662.5" y1="288.4" x2="492.7" y2="258.1" stroke="#dedede" stroke-width="0.7" stroke-dasharray="1.6 0.5"/>
<line x1="392.7" y1="294.3" x2="492.7" y2="243.4" stroke="#dedede" stroke-width="0.7" stroke-dasharray="1.6 0.5"/>
<line x1="662.5" y1="273.7" x2="492.7" y2="243.4" stroke="#dedede" stroke-width="0.7" stroke-dasharray="1.6 0.5"/>
<line x1="562.5" y1="412.8" x2="662.5" y2="361.9" stroke="#5a5a5a" stroke-width="0.75"/>
<line x1="562.5" y1="412.8" x2="392.7" y2="382.5" stroke="#5a5a5a" stroke-width="0.75"/>
<line x1="392.7" y1="382.5" x2="392.7" y2="294.3" stroke="#a8a8a8" stroke-width="1.0"/>
<line x1="562.5" y1="412.8" x2="565.85" y2="413.4" stroke="#5a5a5a" stroke-width="0.75"/>
<line x1="582.5" y1="402.62" x2="585.85" y2="403.22" stroke="#5a5a5a" stroke-width="0.75"/>
<line x1="602.5" y1="392.44" x2="605.85" y2="393.04" stroke="#5a5a5a" stroke-width="0.75"/>
<line x1="622.5" y1="382.26" x2="625.85" y2="382.86" stroke="#5a5a5a" stroke-width="0.75"/>
<line x1="642.5" y1="372.08" x2="645.85" y2="372.68" stroke="#5a5a5a" stroke-width="0.75"/>
<line x1="662.5" y1="361.9" x2="665.85" y2="362.5" stroke="#5a5a5a" stroke-width="0.75"/>
<line x1="562.5" y1="412.8" x2="559.47" y2="414.34" stroke="#5a5a5a" stroke-width="0.75"/>
<line x1="534.2" y1="407.75" x2="531.17" y2="409.29" stroke="#5a5a5a" stroke-width="0.75"/>
<line x1="505.9" y1="402.7" x2="502.87" y2="404.24" stroke="#5a5a5a" stroke-width="0.75"/>
<line x1="477.6" y1="397.65" x2="474.57" y2="399.19" stroke="#5a5a5a" stroke-width="0.75"/>
<line x1="449.3" y1="392.6" x2="446.27" y2="394.14" stroke="#5a5a5a" stroke-width="0.75"/>
<line x1="421" y1="387.55" x2="417.97" y2="389.09" stroke="#5a5a5a" stroke-width="0.75"/>
<line x1="392.7" y1="382.5" x2="389.67" y2="384.04" stroke="#5a5a5a" stroke-width="0.75"/>
<line x1="392.7" y1="382.5" x2="389.35" y2="381.9" stroke="#5a5a5a" stroke-width="0.75"/>
<line x1="392.7" y1="367.8" x2="389.35" y2="367.2" stroke="#5a5a5a" stroke-width="0.75"/>
<line x1="392.7" y1="353.1" x2="389.35" y2="352.5" stroke="#5a5a5a" stroke-width="0.75"/>
<line x1="392.7" y1="338.4" x2="389.35" y2="337.8" stroke="#5a5a5a" stroke-width="0.75"/>
<line x1="392.7" y1="323.7" x2="389.35" y2="323.1" stroke="#5a5a5a" stroke-width="0.75"/>
<line x1="392.7" y1="309" x2="389.35" y2="308.4" stroke="#5a5a5a" stroke-width="0.75"/>
<line x1="392.7" y1="294.3" x2="389.35" y2="293.7" stroke="#5a5a5a" stroke-width="0.75"/>
<text x="568.8" y="420.63" font-size="6.8" text-anchor="start" font-weight="bold" fill="#262626" font-family="Liberation Sans">0</text>
<text x="588.8" y="410.45" font-size="6.8" text-anchor="start" font-weight="bold" fill="#262626" font-family="Liberation Sans">200</text>
<text x="608.8" y="400.27" font-size="6.8" text-anchor="start" font-weight="bold" fill="#262626" font-family="Liberation Sans">400</text>
<text x="628.8" y="390.09" font-size="6.8" text-anchor="start" font-weight="bold" fill="#262626" font-family="Liberation Sans">600</text>
<text x="648.8" y="379.91" font-size="6.8" text-anchor="start" font-weight="bold" fill="#262626" font-family="Liberation Sans">800</text>
<text x="668.8" y="369.73" font-size="6.8" text-anchor="start" font-weight="bold" fill="#262626" font-family="Liberation Sans">1000</text>
<text x="556.3" y="421.73" font-size="6.8" text-anchor="end" font-weight="bold" fill="#262626" font-family="Liberation Sans">0</text>
<text x="528" y="416.68" font-size="6.8" text-anchor="end" font-weight="bold" fill="#262626" font-family="Liberation Sans">50</text>
<text x="499.7" y="411.63" font-size="6.8" text-anchor="end" font-weight="bold" fill="#262626" font-family="Liberation Sans">100</text>
<text x="471.4" y="406.58" font-size="6.8" text-anchor="end" font-weight="bold" fill="#262626" font-family="Liberation Sans">150</text>
<text x="443.1" y="401.53" font-size="6.8" text-anchor="end" font-weight="bold" fill="#262626" font-family="Liberation Sans">200</text>
<text x="414.8" y="396.48" font-size="6.8" text-anchor="end" font-weight="bold" fill="#262626" font-family="Liberation Sans">250</text>
<text x="386.5" y="391.43" font-size="6.8" text-anchor="end" font-weight="bold" fill="#262626" font-family="Liberation Sans">300</text>
<text x="386.1" y="384.03" font-size="6.8" text-anchor="end" font-weight="bold" fill="#262626" font-family="Liberation Sans">60</text>
<text x="386.1" y="369.33" font-size="6.8" text-anchor="end" font-weight="bold" fill="#262626" font-family="Liberation Sans">80</text>
<text x="386.1" y="354.63" font-size="6.8" text-anchor="end" font-weight="bold" fill="#262626" font-family="Liberation Sans">100</text>
<text x="386.1" y="339.93" font-size="6.8" text-anchor="end" font-weight="bold" fill="#262626" font-family="Liberation Sans">120</text>
<text x="386.1" y="325.23" font-size="6.8" text-anchor="end" font-weight="bold" fill="#262626" font-family="Liberation Sans">140</text>
<text x="386.1" y="310.53" font-size="6.8" text-anchor="end" font-weight="bold" fill="#262626" font-family="Liberation Sans">160</text>
<text x="386.1" y="295.83" font-size="6.8" text-anchor="end" font-weight="bold" fill="#262626" font-family="Liberation Sans">180</text>
<text x="469.6" y="428.1" font-size="8.4" text-anchor="start" font-weight="bold" fill="#1a1a1a" font-family="Liberation Sans">I<tspan font-size="6.0" dy="4.0">TH</tspan><tspan dy="-4.0">(t)</tspan></text>
<text x="616.9" y="422.3" font-size="8.4" text-anchor="start" font-weight="bold" fill="#1a1a1a" font-family="Liberation Sans">I<tspan font-size="6.0" dy="4.0">T</tspan><tspan dy="-4.0">(t)</tspan></text>
<text x="364.6" y="347.2" font-size="8.4" text-anchor="start" font-weight="bold" fill="#1a1a1a" font-family="Liberation Sans" transform="rotate(-90 364.6 347.2)">T<tspan font-size="6.0" dy="4.0">T</tspan><tspan dy="-4.0">(t)</tspan></text>
<path d="M492.4 243.6 L485.7 249.7 L478.58 256.45 L477.99 257.39 L477.4 258.35 L476.8 259.35 L476.2 260.36 L475.59 261.4 L474.99 262.46 L474.4 263.54 L473.81 264.64 L473.24 265.75 L472.69 266.88 L472.16 268.02 L471.65 269.18 L471.17 270.34 L470.72 271.52 L470.3 272.7 L469.92 273.89 L469.58 275.08 L469.29 276.28 L469.05 277.48 L468.86 278.68 L468.72 279.87 L468.64 281.07 L468.62 282.26 L468.67 283.44 L468.78 284.62 L468.95 285.78 L469.17 286.93 L469.46 288.07 L469.79 289.2 L470.18 290.3 L470.63 291.38 L471.12 292.44 L471.66 293.48 L472.25 294.49 L472.88 295.47 L473.55 296.42 L474.27 297.34 L475.03 298.23 L475.82 299.09 L476.65 299.92 L477.52 300.73 L478.41 301.51 L479.34 302.26 L480.29 302.99 L481.27 303.7 L482.27 304.39 L483.29 305.06 L484.33 305.72 L485.39 306.35 L486.47 306.97 L487.56 307.58 L488.66 308.17 L489.77 308.76 L490.88 309.33 L492.01 309.9 L493.13 310.45 L494.26 311 L495.39 311.55 L496.51 312.09 L497.63 312.63 L498.75 313.17 L499.85 313.71 L500.95 314.25 L502.04 314.79 L503.12 315.33 L504.2 315.87 L505.27 316.41 L506.34 316.95 L507.4 317.5 L508.46 318.05 L509.51 318.59 L510.56 319.15 L511.6 319.7 L512.64 320.26 L513.68 320.82 L514.71 321.38 L515.75 321.95 L516.78 322.52 L517.81 323.09 L518.84 323.67 L519.87 324.26 L520.9 324.84 L521.93 325.44 L522.96 326.04 L524 326.64 L525.03 327.25 L526.07 327.86 L527.11 328.48 L528.15 329.11 L529.19 329.75 L530.23 330.39 L531.27 331.04 L532.31 331.7 L533.33 332.37 L534.35 333.06 L535.37 333.75 L536.37 334.46 L537.36 335.17 L538.33 335.91 L539.29 336.65 L540.24 337.41 L541.16 338.19 L542.07 338.98 L542.95 339.79 L543.82 340.62 L544.66 341.46 L545.47 342.33 L546.25 343.21 L547.01 344.11 L547.74 345.04 L548.43 345.98 L549.1 346.95 L549.72 347.95 L550.31 348.96 L550.87 350 L551.38 351.07 L551.85 352.16 L552.29 353.27 L552.7 354.4 L553.07 355.55 L553.41 356.72 L553.73 357.9 L554.03 359.09 L554.31 360.28 L554.56 361.49 L554.81 362.7 L555.04 363.91 L555.26 365.13 L555.48 366.34 L555.69 367.55 L555.89 368.75 L556.09 369.95 L556.28 371.16 L556.47 372.36 L556.66 373.55 L556.84 374.75 L557.01 375.94 L557.18 377.14 L557.35 378.33 L557.52 379.52 L557.68 380.71 L557.83 381.9 L557.99 383.09 L558.14 384.28 L558.29 385.47 L558.44 386.66 L558.58 387.84 L558.72 389.03 L558.86 390.22 L559 391.41 L559.14 392.6 L559.28 393.8 L559.42 394.99 L559.55 396.18 L559.69 397.38 L559.82 398.58 L559.96 399.78 L560.1 400.98 L560.23 402.18" fill="none" stroke="#d8862c" stroke-width="1.55" stroke-linejoin="round" stroke-linecap="butt"/>
<path d="M472.3 253.6 L466.7 260.3 L462.67 264.79 L462.29 265.84 L461.93 266.9 L461.59 267.98 L461.28 269.08 L460.99 270.19 L460.74 271.31 L460.51 272.44 L460.31 273.58 L460.15 274.72 L460.03 275.87 L459.94 277.02 L459.88 278.17 L459.87 279.32 L459.89 280.46 L459.96 281.59 L460.07 282.71 L460.22 283.83 L460.43 284.93 L460.67 286.01 L460.97 287.08 L461.31 288.14 L461.69 289.17 L462.12 290.18 L462.59 291.17 L463.1 292.14 L463.64 293.09 L464.23 294.01 L464.85 294.9 L465.51 295.77 L466.2 296.61 L466.92 297.42 L467.67 298.2 L468.45 298.96 L469.27 299.69 L470.1 300.4 L470.97 301.08 L471.85 301.74 L472.76 302.38 L473.69 303.01 L474.64 303.61 L475.6 304.2 L476.59 304.77 L477.58 305.32 L478.6 305.86 L479.62 306.39 L480.65 306.91 L481.7 307.41 L482.75 307.91 L483.8 308.4 L484.87 308.88 L485.93 309.35 L487 309.82 L488.07 310.28 L489.14 310.74 L490.2 311.2 L491.26 311.66 L492.32 312.12 L493.36 312.58 L494.41 313.04 L495.44 313.51 L496.46 313.98 L497.48 314.45 L498.49 314.93 L499.49 315.4 L500.49 315.88 L501.49 316.37 L502.48 316.85 L503.47 317.34 L504.45 317.82 L505.43 318.31 L506.41 318.8 L507.39 319.3 L508.37 319.79 L509.35 320.29 L510.34 320.78 L511.32 321.28 L512.3 321.78 L513.29 322.28 L514.29 322.78 L515.28 323.28 L516.29 323.78 L517.29 324.28 L518.3 324.78 L519.31 325.29 L520.33 325.8 L521.35 326.31 L522.36 326.82 L523.38 327.34 L524.39 327.87 L525.41 328.4 L526.41 328.94 L527.42 329.49 L528.42 330.05 L529.41 330.61 L530.4 331.19 L531.38 331.77 L532.36 332.37 L533.32 332.98 L534.27 333.6 L535.21 334.23 L536.14 334.88 L537.06 335.54 L537.97 336.22 L538.86 336.91 L539.73 337.62 L540.59 338.35 L541.42 339.1 L542.24 339.86 L543.03 340.64 L543.8 341.44 L544.55 342.26 L545.27 343.11 L545.96 343.97 L546.63 344.85 L547.26 345.76 L547.87 346.68 L548.46 347.62 L549.02 348.58 L549.55 349.55 L550.06 350.54 L550.55 351.54 L551.02 352.55 L551.46 353.58 L551.89 354.61 L552.29 355.65 L552.67 356.71 L553.04 357.77 L553.38 358.84 L553.71 359.91 L554.02 360.99 L554.32 362.07 L554.6 363.16 L554.86 364.25 L555.11 365.35 L555.35 366.45 L555.58 367.55 L555.79 368.66 L555.99 369.78 L556.18 370.89 L556.36 372.01 L556.53 373.13 L556.7 374.25 L556.85 375.37 L557 376.5 L557.14 377.62 L557.28 378.75 L557.41 379.88 L557.54 381.01 L557.66 382.14 L557.78 383.26 L557.9 384.39 L558.02 385.52 L558.14 386.64 L558.25 387.77 L558.37 388.89 L558.49 390.01 L558.61 391.13 L558.74 392.24 L558.87 393.36 L559 394.47 L559.14 395.57 L559.28 396.68 L559.43 397.78 L559.59 398.87 L559.75 399.96 L559.93 401.05 L560.11 402.13" fill="none" stroke="#f8ce0c" stroke-width="1.55" stroke-linejoin="round" stroke-linecap="butt"/>
<path d="M452.2 264.2 L447.3 272.56 L447.31 273.96 L447.39 275.32 L447.52 276.65 L447.71 277.93 L447.96 279.19 L448.26 280.41 L448.61 281.59 L449.01 282.74 L449.47 283.86 L449.97 284.95 L450.52 286 L451.11 287.03 L451.74 288.03 L452.41 289 L453.12 289.94 L453.87 290.86 L454.66 291.75 L455.48 292.62 L456.33 293.46 L457.21 294.28 L458.11 295.08 L459.05 295.86 L460.01 296.62 L460.99 297.36 L462 298.08 L463.03 298.78 L464.07 299.47 L465.13 300.14 L466.2 300.8 L467.29 301.44 L468.39 302.07 L469.5 302.69 L470.61 303.29 L471.74 303.89 L472.86 304.48 L473.99 305.05 L475.12 305.62 L476.25 306.18 L477.39 306.74 L478.52 307.29 L479.65 307.83 L480.78 308.37 L481.91 308.9 L483.05 309.42 L484.18 309.95 L485.31 310.46 L486.44 310.98 L487.58 311.49 L488.71 311.99 L489.84 312.5 L490.97 313 L492.1 313.5 L493.23 313.99 L494.36 314.49 L495.49 314.99 L496.62 315.48 L497.75 315.98 L498.87 316.47 L500 316.97 L501.12 317.46 L502.25 317.96 L503.37 318.46 L504.49 318.96 L505.61 319.47 L506.72 319.98 L507.84 320.49 L508.96 321 L510.07 321.52 L511.18 322.04 L512.29 322.57 L513.4 323.11 L514.5 323.64 L515.61 324.19 L516.71 324.74 L517.81 325.3 L518.91 325.86 L520 326.43 L521.09 327.01 L522.18 327.6 L523.27 328.2 L524.36 328.8 L525.44 329.42 L526.52 330.04 L527.6 330.68 L528.67 331.33 L529.74 331.98 L530.8 332.65 L531.85 333.33 L532.89 334.02 L533.93 334.73 L534.95 335.45 L535.96 336.18 L536.95 336.93 L537.93 337.7 L538.89 338.48 L539.84 339.27 L540.76 340.08 L541.67 340.91 L542.55 341.76 L543.41 342.62 L544.25 343.51 L545.06 344.41 L545.85 345.33 L546.6 346.28 L547.33 347.24 L548.03 348.22 L548.69 349.23 L549.33 350.26 L549.92 351.31 L550.49 352.38 L551.01 353.48 L551.51 354.59 L551.97 355.73 L552.41 356.88 L552.81 358.05 L553.19 359.23 L553.55 360.43 L553.88 361.63 L554.19 362.85 L554.49 364.07 L554.77 365.29 L555.03 366.52 L555.28 367.75 L555.51 368.99 L555.74 370.22 L555.95 371.46 L556.15 372.7 L556.34 373.94 L556.52 375.18 L556.69 376.43 L556.86 377.67 L557.02 378.91 L557.17 380.16 L557.32 381.4 L557.47 382.64 L557.61 383.88 L557.75 385.12 L557.88 386.35 L558.02 387.59 L558.16 388.82 L558.29 390.05 L558.43 391.27 L558.57 392.5 L558.72 393.71 L558.87 394.93 L559.02 396.14 L559.18 397.34 L559.35 398.54 L559.52 399.74 L559.71 400.92 L559.9 402.11" fill="none" stroke="#22bcc4" stroke-width="1.55" stroke-linejoin="round" stroke-linecap="butt"/>
<path d="M432.4 274.2 L431.54 279.97 L432.24 281.02 L432.95 282.04 L433.69 283.04 L434.45 284 L435.23 284.95 L436.03 285.87 L436.85 286.76 L437.68 287.63 L438.53 288.48 L439.4 289.31 L440.29 290.12 L441.2 290.9 L442.11 291.67 L443.05 292.42 L444 293.14 L444.96 293.85 L445.93 294.54 L446.92 295.22 L447.92 295.88 L448.93 296.52 L449.95 297.15 L450.98 297.76 L452.02 298.36 L453.07 298.95 L454.13 299.52 L455.2 300.09 L456.27 300.64 L457.36 301.18 L458.44 301.71 L459.54 302.23 L460.63 302.75 L461.74 303.25 L462.84 303.75 L463.95 304.24 L465.06 304.72 L466.18 305.2 L467.29 305.68 L468.41 306.15 L469.53 306.61 L470.65 307.07 L471.78 307.53 L472.9 307.98 L474.03 308.43 L475.16 308.87 L476.28 309.31 L477.41 309.75 L478.55 310.19 L479.68 310.63 L480.81 311.06 L481.94 311.49 L483.08 311.92 L484.21 312.35 L485.34 312.78 L486.48 313.21 L487.61 313.64 L488.74 314.06 L489.88 314.49 L491.01 314.92 L492.14 315.35 L493.27 315.79 L494.4 316.22 L495.53 316.66 L496.66 317.1 L497.79 317.54 L498.91 317.98 L500.04 318.43 L501.16 318.88 L502.28 319.33 L503.4 319.79 L504.52 320.25 L505.63 320.72 L506.75 321.19 L507.86 321.67 L508.97 322.15 L510.07 322.64 L511.17 323.14 L512.27 323.64 L513.37 324.15 L514.46 324.66 L515.56 325.18 L516.64 325.71 L517.73 326.25 L518.81 326.8 L519.88 327.35 L520.96 327.91 L522.03 328.48 L523.09 329.06 L524.15 329.65 L525.21 330.26 L526.26 330.87 L527.31 331.49 L528.35 332.12 L529.38 332.76 L530.41 333.42 L531.43 334.08 L532.44 334.76 L533.44 335.45 L534.43 336.16 L535.41 336.88 L536.37 337.61 L537.32 338.35 L538.25 339.12 L539.17 339.89 L540.07 340.68 L540.95 341.49 L541.82 342.31 L542.66 343.15 L543.48 344.01 L544.28 344.88 L545.06 345.77 L545.81 346.68 L546.54 347.61 L547.24 348.55 L547.91 349.52 L548.56 350.5 L549.17 351.5 L549.76 352.53 L550.31 353.57 L550.84 354.63 L551.33 355.72 L551.8 356.81 L552.25 357.93 L552.66 359.06 L553.06 360.2 L553.43 361.35 L553.77 362.52 L554.1 363.69 L554.41 364.87 L554.69 366.06 L554.96 367.26 L555.21 368.46 L555.45 369.67 L555.67 370.88 L555.88 372.1 L556.08 373.32 L556.26 374.54 L556.43 375.77 L556.6 376.99 L556.75 378.22 L556.9 379.45 L557.04 380.68 L557.18 381.91 L557.31 383.13 L557.44 384.36 L557.57 385.58 L557.69 386.79 L557.82 388.01 L557.95 389.22 L558.07 390.42 L558.21 391.62 L558.34 392.82 L558.49 394 L558.63 395.18 L558.79 396.35 L558.95 397.51 L559.13 398.66 L559.31 399.81 L559.51 400.94 L559.72 402.06" fill="none" stroke="#f792c4" stroke-width="1.55" stroke-linejoin="round" stroke-linecap="butt"/>
<path d="M412.3 284.8 L416.64 288.7 L417.81 289.18 L418.98 289.66 L420.15 290.14 L421.32 290.63 L422.49 291.12 L423.65 291.61 L424.81 292.1 L425.97 292.6 L427.13 293.09 L428.29 293.59 L429.45 294.09 L430.61 294.59 L431.76 295.09 L432.92 295.59 L434.07 296.09 L435.22 296.59 L436.38 297.08 L437.53 297.58 L438.68 298.08 L439.84 298.58 L440.99 299.07 L442.14 299.57 L443.3 300.06 L444.45 300.55 L445.6 301.04 L446.76 301.53 L447.92 302.01 L449.07 302.49 L450.23 302.97 L451.39 303.45 L452.55 303.92 L453.72 304.39 L454.88 304.86 L456.05 305.32 L457.21 305.78 L458.38 306.23 L459.56 306.68 L460.73 307.12 L461.91 307.56 L463.09 307.99 L464.27 308.42 L465.45 308.84 L466.64 309.26 L467.83 309.67 L469.02 310.08 L470.22 310.49 L471.41 310.89 L472.61 311.28 L473.81 311.67 L475.01 312.06 L476.21 312.45 L477.42 312.84 L478.62 313.22 L479.83 313.6 L481.03 313.98 L482.24 314.37 L483.44 314.75 L484.65 315.13 L485.86 315.51 L487.06 315.89 L488.27 316.27 L489.47 316.66 L490.68 317.05 L491.88 317.44 L493.08 317.83 L494.29 318.22 L495.48 318.62 L496.68 319.02 L497.88 319.43 L499.07 319.84 L500.26 320.26 L501.45 320.68 L502.64 321.11 L503.82 321.54 L505.01 321.98 L506.18 322.43 L507.36 322.88 L508.53 323.34 L509.7 323.81 L510.86 324.29 L512.02 324.78 L513.18 325.27 L514.33 325.78 L515.48 326.29 L516.62 326.81 L517.76 327.35 L518.9 327.9 L520.03 328.45 L521.15 329.02 L522.27 329.6 L523.38 330.19 L524.48 330.8 L525.59 331.42 L526.68 332.05 L527.77 332.7 L528.85 333.36 L529.92 334.03 L530.98 334.72 L532.03 335.42 L533.07 336.14 L534.1 336.88 L535.12 337.63 L536.12 338.39 L537.1 339.18 L538.07 339.98 L539.02 340.79 L539.95 341.62 L540.86 342.47 L541.75 343.34 L542.62 344.23 L543.46 345.13 L544.28 346.06 L545.08 347 L545.85 347.96 L546.6 348.94 L547.31 349.94 L548 350.96 L548.66 352 L549.28 353.06 L549.88 354.14 L550.44 355.24 L550.98 356.36 L551.48 357.49 L551.96 358.65 L552.41 359.81 L552.83 360.99 L553.23 362.19 L553.6 363.39 L553.95 364.61 L554.28 365.84 L554.58 367.07 L554.87 368.32 L555.14 369.57 L555.39 370.83 L555.62 372.09 L555.84 373.36 L556.04 374.63 L556.23 375.9 L556.41 377.18 L556.58 378.46 L556.74 379.74 L556.89 381.02 L557.03 382.3 L557.18 383.58 L557.31 384.86 L557.44 386.13 L557.58 387.4 L557.71 388.67 L557.84 389.93 L557.98 391.18 L558.11 392.43 L558.26 393.67 L558.41 394.9 L558.56 396.12 L558.73 397.33 L558.9 398.53 L559.09 399.72 L559.29 400.9 L559.5 402.06" fill="none" stroke="#a3203f" stroke-width="1.55" stroke-linejoin="round" stroke-linecap="butt"/>
<text transform="translate(119.2 219.1) scale(1 1)" font-size="13.3" font-family="Liberation Serif" fill="#111">(a)</text>
<text transform="translate(139.5 219.1) scale(1.18 1)" font-size="13.3" font-family="Liberation Serif" fill="#111" font-style="italic">I</text>
<text transform="translate(146.2 220.9) scale(1 1)" font-size="9.0" font-family="Liberation Serif" fill="#111" font-style="italic">H</text>
<text transform="translate(155.55 219.1) scale(1 1)" font-size="13.3" font-family="Liberation Serif" fill="#111">,</text>
<text transform="translate(164.14 219.1) scale(1.29 1)" font-size="13.3" font-family="Liberation Serif" fill="#111" font-style="italic">S</text>
<text transform="translate(178.1 219.1) scale(1.01 1)" font-size="13.3" font-family="Liberation Serif" fill="#111">vs.</text>
<text transform="translate(198.4 219.1) scale(1.27 1)" font-size="13.3" font-family="Liberation Serif" fill="#111" font-style="italic">I</text>
<text transform="translate(204.24 220.9) scale(1.27 1)" font-size="9.0" font-family="Liberation Serif" fill="#111" font-style="italic">T</text>
<text transform="translate(214.31 220.9) scale(1.14 1)" font-size="9.0" font-family="Liberation Serif" fill="#111" font-style="italic">H</text>
<text transform="translate(481.68 219.1) scale(1.03 1)" font-size="13.3" font-family="Liberation Serif" fill="#111">(b)</text>
<text transform="translate(503.4 219.1) scale(1.08 1)" font-size="13.3" font-family="Liberation Serif" fill="#111" font-style="italic">I</text>
<text transform="translate(508.9 220.9) scale(1 1)" font-size="9.0" font-family="Liberation Serif" fill="#111" font-style="italic">T</text>
<text transform="translate(517.55 219.1) scale(1 1)" font-size="13.3" font-family="Liberation Serif" fill="#111">,</text>
<text transform="translate(525.85 219.1) scale(1.23 1)" font-size="13.3" font-family="Liberation Serif" fill="#111" font-style="italic">S</text>
<text transform="translate(539.6 219.1) scale(0.99 1)" font-size="13.3" font-family="Liberation Serif" fill="#111">vs.</text>
<text transform="translate(560.6 219.1) scale(1.18 1)" font-size="13.3" font-family="Liberation Serif" fill="#111" font-style="italic">I</text>
<text transform="translate(567.31 220.9) scale(1.13 1)" font-size="9.0" font-family="Liberation Serif" fill="#111" font-style="italic">H</text>
<text transform="translate(118.07 461.6) scale(1.05 1)" font-size="13.3" font-family="Liberation Serif" fill="#111">(c)</text>
<text transform="translate(137.64 461.6) scale(1.08 1)" font-size="13.3" font-family="Liberation Serif" fill="#111" font-style="italic">C</text>
<text transform="translate(147.49 463.4) scale(1.18 1)" font-size="9.0" font-family="Liberation Serif" fill="#111" font-style="italic">T</text>
<text transform="translate(157.5 461.6) scale(1 1)" font-size="13.3" font-family="Liberation Serif" fill="#111">,</text>
<text transform="translate(167.29 461.6) scale(0.99 1)" font-size="13.3" font-family="Liberation Serif" fill="#111" font-style="italic">A</text>
<text transform="translate(176.91 463.4) scale(1.13 1)" font-size="9.0" font-family="Liberation Serif" fill="#111" font-style="italic">H</text>
<text transform="translate(191.4 461.6) scale(1 1)" font-size="13.3" font-family="Liberation Serif" fill="#111">vs.</text>
<text transform="translate(212.4 461.6) scale(1.14 1)" font-size="13.3" font-family="Liberation Serif" fill="#111" font-style="italic">I</text>
<text transform="translate(218.11 463.4) scale(1.14 1)" font-size="9.0" font-family="Liberation Serif" fill="#111" font-style="italic">T</text>
<text transform="translate(227.11 463.4) scale(1.13 1)" font-size="9.0" font-family="Liberation Serif" fill="#111" font-style="italic">H</text>
<text transform="translate(479.9 461.6) scale(1.01 1)" font-size="13.3" font-family="Liberation Serif" fill="#111">(d)</text>
<text transform="translate(499.17 461.6) scale(1.26 1)" font-size="13.3" font-family="Liberation Serif" fill="#111" font-style="italic">T</text>
<text transform="translate(509.61 463.4) scale(1.14 1)" font-size="9.0" font-family="Liberation Serif" fill="#111" font-style="italic">T</text>
<text transform="translate(518.6 461.6) scale(1 1)" font-size="13.3" font-family="Liberation Serif" fill="#111">,</text>
<text transform="translate(526.6 461.6) scale(1.27 1)" font-size="13.3" font-family="Liberation Serif" fill="#111" font-style="italic">I</text>
<text transform="translate(532.91 463.4) scale(1.14 1)" font-size="9.0" font-family="Liberation Serif" fill="#111" font-style="italic">T</text>
<text transform="translate(541.31 463.4) scale(1.14 1)" font-size="9.0" font-family="Liberation Serif" fill="#111" font-style="italic">H</text>
<text transform="translate(556.2 461.6) scale(1.01 1)" font-size="13.3" font-family="Liberation Serif" fill="#111">vs.</text>
<text transform="translate(576.7 461.6) scale(1.29 1)" font-size="13.3" font-family="Liberation Serif" fill="#111" font-style="italic">I</text>
<text transform="translate(583.24 463.4) scale(1.27 1)" font-size="9.0" font-family="Liberation Serif" fill="#111" font-style="italic">T</text>
</svg>
</body></html>
